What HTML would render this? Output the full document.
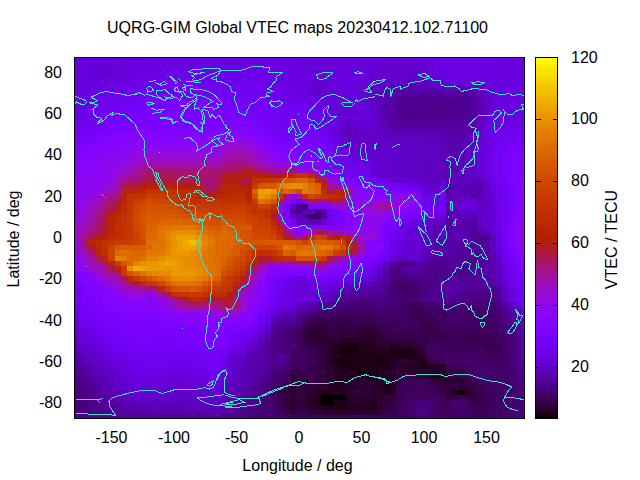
<!DOCTYPE html>
<html><head><meta charset="utf-8"><title>UQRG-GIM Global VTEC maps</title>
<style>
html,body{margin:0;padding:0;background:#fff;}
body{width:640px;height:480px;overflow:hidden;position:relative;font-family:"Liberation Sans",sans-serif;font-size:16px;color:#000;}
svg{position:absolute;left:0;top:0;}
text{font-family:"Liberation Sans",sans-serif;font-size:16px;fill:#000;}
</style></head><body>
<svg width="640" height="480" viewBox="0 0 640 480">
<rect x="0" y="0" width="640" height="480" fill="#ffffff"/>
<g shape-rendering="crispEdges">

<path fill="#6a01e2" d="M74 57h3v3h-3zM433 57h7v3h-7zM496 57h28v3h-28zM483 65h7v5h-7zM483 70h7v5h-7zM333 75h7v5h-7zM440 75h31v5h-31zM483 75h7v5h-7zM121 80h6v5h-6zM340 80h6v5h-6zM352 80h6v5h-6zM74 91h3v5h-3zM521 91h3v5h-3zM496 116h6v5h-6zM490 121h6v6h-6zM483 147h7v5h-7zM490 183h6v6h-6zM427 194h6v5h-6z"/>
<path fill="#6701da" d="M77 57h6v3h-6zM115 57h31v3h-31zM227 60h13v5h-13zM296 60h75v5h-75zM77 65h6v5h-6zM115 65h6v5h-6zM302 65h31v5h-31zM365 65h6v5h-6zM315 70h12v5h-12zM365 70h6v5h-6zM115 75h6v5h-6zM315 75h6v5h-6zM308 80h7v5h-7zM302 85h6v6h-6zM315 96h6v5h-6zM321 101h6v5h-6zM358 101h7v5h-7zM327 106h6v5h-6zM365 116h6v5h-6zM333 121h7v6h-7zM333 127h7v5h-7zM333 132h7v5h-7zM352 152h13v6h-13zM440 183h6v6h-6zM321 219h6v6h-6zM408 225h7v5h-7zM408 230h7v5h-7zM390 256h6v5h-6zM296 281h6v5h-6zM296 286h25v6h-25zM296 292h19v5h-19zM308 297h7v5h-7zM515 302h6v5h-6zM277 307h6v5h-6zM258 328h7v5h-7zM77 333h6v5h-6zM83 338h7v5h-7zM90 343h6v5h-6zM246 343h6v5h-6zM96 348h6v6h-6zM233 348h7v6h-7zM102 354h6v5h-6zM108 359h7v5h-7zM115 364h6v5h-6zM121 369h6v5h-6zM221 369h6v5h-6zM127 374h6v5h-6zM165 374h25v5h-25zM127 379h13v5h-13zM152 379h19v5h-19zM183 379h19v5h-19zM133 384h25v6h-25zM196 384h25v6h-25z"/>
<path fill="#6701db" d="M83 57h32v3h-32zM121 60h6v5h-6zM333 65h32v5h-32zM127 70h6v5h-6zM321 75h6v5h-6zM471 80h6v5h-6zM346 96h6v5h-6zM340 142h6v5h-6zM346 147h6v5h-6zM421 219h6v6h-6zM371 271h6v5h-6zM358 276h7v5h-7zM502 276h6v5h-6z"/>
<path fill="#6a01e1" d="M146 57h219v3h-219zM127 60h100v5h-100zM240 60h56v5h-56zM490 60h6v5h-6zM127 65h175v5h-175zM133 70h13v5h-13zM271 70h44v5h-44zM77 75h6v5h-6zM127 75h6v5h-6zM277 75h19v5h-19zM302 75h13v5h-13zM283 80h25v5h-25zM77 85h38v6h-38zM290 85h12v6h-12zM77 91h25v5h-25zM296 91h12v5h-12zM77 96h19v5h-19zM308 96h7v5h-7zM77 101h13v5h-13zM315 101h6v5h-6zM321 106h6v5h-6zM502 106h19v5h-19zM327 111h6v5h-6zM502 111h19v5h-19zM333 116h7v5h-7zM333 137h7v5h-7zM340 147h6v5h-6zM346 152h6v6h-6zM352 158h13v5h-13zM402 230h6v5h-6zM502 261h6v5h-6zM290 281h6v5h-6zM308 281h7v5h-7zM290 286h6v6h-6zM290 292h6v5h-6zM283 297h25v5h-25zM283 302h13v5h-13zM265 317h6v6h-6zM77 328h6v5h-6zM83 333h7v5h-7zM90 338h6v5h-6zM96 343h6v5h-6zM102 348h6v6h-6zM240 348h6v6h-6zM108 354h7v5h-7zM115 359h12v5h-12zM121 364h6v5h-6zM221 364h6v5h-6zM127 369h6v5h-6zM165 369h31v5h-31zM133 374h32v5h-32zM190 374h12v5h-12zM140 379h12v5h-12zM202 379h19v5h-19z"/>
<path fill="#6901e0" d="M365 57h6v3h-6zM427 57h6v3h-6zM433 60h7v5h-7zM74 80h3v5h-3zM483 80h7v5h-7zM521 80h3v5h-3zM74 96h3v5h-3zM521 96h3v5h-3zM74 101h3v5h-3zM502 101h22v5h-22zM496 111h6v5h-6zM358 116h7v5h-7zM365 158h6v5h-6zM483 173h7v5h-7zM415 183h6v6h-6zM333 281h7v5h-7zM321 286h6v6h-6zM508 286h7v6h-7zM508 292h7v5h-7zM508 297h7v5h-7z"/>
<path fill="#6901df" d="M371 57h56v3h-56zM74 60h3v5h-3zM496 60h28v5h-28zM74 65h3v5h-3zM433 65h7v5h-7zM490 65h6v5h-6zM521 65h3v5h-3zM340 70h18v5h-18zM490 70h6v5h-6zM490 75h6v5h-6zM477 80h6v5h-6zM74 85h3v6h-3zM521 85h3v6h-3zM496 101h6v5h-6zM496 106h6v5h-6zM483 142h7v5h-7zM440 214h6v5h-6zM402 235h6v5h-6zM396 245h6v5h-6zM302 276h6v5h-6z"/>
<path fill="#6b01e4" d="M440 57h43v3h-43zM446 60h37v5h-37zM446 65h37v5h-37zM446 70h37v5h-37zM74 106h3v5h-3zM521 106h3v5h-3zM74 111h3v5h-3zM521 111h3v5h-3zM483 152h7v6h-7zM483 158h7v5h-7zM483 163h7v5h-7zM483 168h7v5h-7z"/>
<path fill="#6b01e3" d="M483 57h7v3h-7zM440 60h6v5h-6zM440 65h6v5h-6zM440 70h6v5h-6zM477 75h6v5h-6zM77 80h6v5h-6zM115 80h6v5h-6zM346 80h6v5h-6zM433 194h7v5h-7zM427 214h6v5h-6zM496 230h6v5h-6zM496 235h6v5h-6zM396 240h6v5h-6zM496 240h6v5h-6z"/>
<path fill="#6a01e3" d="M490 57h6v3h-6zM483 60h7v5h-7zM471 75h6v5h-6zM502 116h19v5h-19zM352 276h6v5h-6z"/>
<path fill="#6801dd" d="M77 60h6v5h-6zM115 60h6v5h-6zM121 65h6v5h-6zM502 70h19v5h-19zM74 75h3v5h-3zM121 75h6v5h-6zM433 75h7v5h-7zM502 75h22v5h-22zM502 80h19v5h-19zM346 85h6v6h-6zM496 85h25v6h-25zM346 91h12v5h-12zM496 91h6v5h-6zM496 96h6v5h-6zM483 137h7v5h-7zM458 204h19v5h-19zM74 312h3v5h-3zM521 312h3v5h-3z"/>
<path fill="#6901de" d="M83 60h32v5h-32zM496 65h6v5h-6zM433 70h7v5h-7zM83 80h32v5h-32zM333 80h7v5h-7zM358 80h7v5h-7zM490 80h6v5h-6zM502 96h19v5h-19zM352 116h6v5h-6z"/>
<path fill="#6601d8" d="M371 60h6v5h-6zM327 80h6v5h-6zM446 80h25v5h-25zM333 85h7v6h-7zM358 85h7v6h-7zM483 85h7v6h-7zM490 91h6v5h-6zM340 96h6v5h-6zM358 96h7v5h-7zM352 106h6v5h-6zM490 106h6v5h-6zM477 152h6v6h-6zM477 168h6v5h-6zM490 189h6v5h-6zM365 276h6v5h-6z"/>
<path fill="#6501d5" d="M377 60h44v5h-44zM90 65h25v5h-25zM427 70h6v5h-6zM90 75h18v5h-18zM396 178h12v5h-12zM421 183h6v6h-6zM427 189h6v5h-6zM402 240h6v5h-6zM408 250h7v6h-7zM496 250h6v6h-6z"/>
<path fill="#6501d6" d="M421 60h6v5h-6zM427 65h6v5h-6zM352 101h6v5h-6zM433 189h7v5h-7zM408 240h7v5h-7zM327 286h6v6h-6z"/>
<path fill="#6701d9" d="M427 60h6v5h-6zM358 106h7v5h-7zM365 152h6v6h-6zM415 225h6v5h-6zM502 271h6v5h-6z"/>
<path fill="#6801dc" d="M83 65h7v5h-7zM77 70h6v5h-6zM327 70h6v5h-6zM83 75h7v5h-7zM108 75h7v5h-7zM358 75h7v5h-7zM340 85h6v6h-6zM352 85h6v6h-6zM490 85h6v6h-6zM340 91h6v5h-6zM333 96h7v5h-7zM327 101h6v5h-6zM340 116h6v5h-6zM490 116h6v5h-6zM483 127h7v5h-7zM483 132h7v5h-7zM383 178h7v5h-7zM496 245h6v5h-6zM408 256h7v5h-7z"/>
<path fill="#6501d4" d="M371 65h6v5h-6zM115 70h6v5h-6zM427 75h6v5h-6zM321 80h6v5h-6zM358 111h13v5h-13zM358 121h13v6h-13zM352 147h6v5h-6zM371 173h6v5h-6zM477 173h6v5h-6zM483 178h7v5h-7zM402 250h6v6h-6z"/>
<path fill="#6301d0" d="M377 65h6v5h-6zM421 65h6v5h-6zM365 85h6v6h-6zM327 91h6v5h-6zM346 106h6v5h-6zM371 163h6v5h-6zM377 168h6v5h-6zM471 209h6v5h-6zM490 230h6v5h-6zM402 245h6v5h-6zM415 256h6v5h-6zM340 281h6v5h-6z"/>
<path fill="#6301cf" d="M383 65h38v5h-38zM377 70h50v5h-50zM377 75h6v5h-6zM365 127h6v5h-6zM371 132h6v5h-6zM377 158h6v5h-6zM377 163h6v5h-6zM433 183h7v6h-7zM415 240h6v5h-6z"/>
<path fill="#6801de" d="M502 65h19v5h-19zM74 70h3v5h-3zM333 70h7v5h-7zM358 70h7v5h-7zM496 70h6v5h-6zM521 70h3v5h-3zM327 75h6v5h-6zM496 75h6v5h-6zM496 80h6v5h-6zM502 91h19v5h-19zM433 214h7v5h-7z"/>
<path fill="#6601d7" d="M83 70h7v5h-7zM365 75h6v5h-6zM365 80h6v5h-6zM440 80h6v5h-6zM333 91h7v5h-7zM333 101h7v5h-7zM490 101h6v5h-6zM483 121h7v6h-7zM477 147h6v5h-6zM490 194h6v5h-6zM465 199h12v5h-12zM490 199h6v5h-6zM490 204h6v5h-6zM490 209h6v5h-6zM490 214h6v5h-6zM490 219h6v6h-6zM490 225h6v5h-6z"/>
<path fill="#6401d2" d="M90 70h18v5h-18zM371 70h6v5h-6zM308 85h7v6h-7zM308 91h7v5h-7zM340 101h12v5h-12zM365 101h6v5h-6zM290 204h6v5h-6zM290 214h6v5h-6zM415 230h6v5h-6zM377 266h6v5h-6zM315 292h6v5h-6zM315 297h6v5h-6zM283 307h13v5h-13zM271 312h6v5h-6zM74 317h3v6h-3zM521 317h3v6h-3zM265 323h6v5h-6zM77 338h6v5h-6zM252 338h6v5h-6zM83 343h7v5h-7zM90 348h6v6h-6zM96 354h6v5h-6zM227 354h6v5h-6zM102 359h6v5h-6zM227 359h6v5h-6zM108 364h7v5h-7zM227 364h6v5h-6zM115 369h6v5h-6zM227 369h6v5h-6zM121 374h6v5h-6zM221 374h6v5h-6zM121 379h6v5h-6zM171 379h12v5h-12zM127 384h6v6h-6zM158 384h38v6h-38zM133 390h32v5h-32zM190 390h31v5h-31z"/>
<path fill="#6401d1" d="M108 70h7v5h-7zM371 75h6v5h-6zM477 85h6v6h-6zM352 111h6v5h-6zM352 121h6v6h-6zM477 137h6v5h-6zM483 214h7v5h-7zM483 219h7v6h-7zM421 225h6v5h-6zM408 235h7v5h-7zM408 245h7v5h-7zM415 250h6v6h-6zM502 281h6v5h-6zM321 292h6v5h-6z"/>
<path fill="#6601d6" d="M121 70h6v5h-6zM327 96h6v5h-6zM490 96h6v5h-6zM346 116h6v5h-6zM390 178h6v5h-6z"/>
<path fill="#6c01e7" d="M146 70h125v5h-125zM133 75h144v5h-144zM296 75h6v5h-6zM133 80h7v5h-7zM258 80h25v5h-25zM127 85h6v6h-6zM265 85h25v6h-25zM102 91h19v5h-19zM271 91h25v5h-25zM96 96h12v5h-12zM277 96h31v5h-31zM90 101h12v5h-12zM308 101h7v5h-7zM77 106h19v5h-19zM315 106h6v5h-6zM77 111h13v5h-13zM321 111h6v5h-6zM77 116h13v5h-13zM327 116h6v5h-6zM327 121h6v6h-6zM327 127h6v5h-6zM327 132h6v5h-6zM490 132h6v5h-6zM333 142h7v5h-7zM340 152h6v6h-6zM346 158h6v5h-6zM352 163h13v5h-13zM296 199h6v5h-6zM327 214h6v5h-6zM402 225h6v5h-6zM377 261h6v5h-6zM283 286h7v6h-7zM283 292h7v5h-7zM277 297h6v5h-6zM277 302h6v5h-6zM74 307h3v5h-3zM271 307h6v5h-6zM521 307h3v5h-3zM77 323h6v5h-6zM258 323h7v5h-7zM83 328h7v5h-7zM90 333h6v5h-6zM252 333h6v5h-6zM96 338h6v5h-6zM246 338h6v5h-6zM102 343h6v5h-6zM240 343h6v5h-6zM108 348h7v6h-7zM227 348h6v6h-6zM115 354h12v5h-12zM127 359h13v5h-13zM221 359h6v5h-6zM127 364h13v5h-13zM165 364h31v5h-31zM133 369h32v5h-32zM196 369h12v5h-12zM202 374h19v5h-19z"/>
<path fill="#6b01e5" d="M340 75h6v5h-6zM352 75h6v5h-6zM496 121h6v6h-6zM415 219h6v6h-6zM365 271h6v5h-6z"/>
<path fill="#6c01e5" d="M346 75h6v5h-6zM365 163h6v5h-6zM296 276h6v5h-6z"/>
<path fill="#6301ce" d="M383 75h19v5h-19zM421 75h6v5h-6zM340 106h6v5h-6zM358 127h7v5h-7zM371 127h6v5h-6zM346 142h6v5h-6zM377 152h13v6h-13zM371 158h6v5h-6zM383 158h7v5h-7zM383 163h7v5h-7zM383 168h7v5h-7zM383 173h7v5h-7zM427 183h6v6h-6zM371 276h6v5h-6z"/>
<path fill="#6201ce" d="M402 75h19v5h-19z"/>
<path fill="#6c02e7" d="M127 80h6v5h-6zM115 85h12v6h-12zM490 137h6v5h-6zM377 178h6v5h-6zM421 214h6v5h-6zM502 256h6v5h-6zM371 266h6v5h-6zM315 281h6v5h-6z"/>
<path fill="#6f02ec" d="M140 80h118v5h-118zM133 85h13v6h-13zM246 85h19v6h-19zM121 91h12v5h-12zM252 91h19v5h-19zM108 96h19v5h-19zM258 96h19v5h-19zM102 101h13v5h-13zM265 101h43v5h-43zM96 106h12v5h-12zM308 106h7v5h-7zM90 111h12v5h-12zM315 111h6v5h-6zM321 116h6v5h-6zM321 121h6v6h-6zM321 127h6v5h-6zM515 127h6v5h-6zM327 137h6v5h-6zM496 137h6v5h-6zM333 147h7v5h-7zM490 147h6v5h-6zM340 158h6v5h-6zM346 163h6v5h-6zM352 168h13v5h-13zM440 194h6v5h-6zM396 230h6v5h-6zM277 292h6v5h-6zM265 312h6v5h-6zM77 317h6v6h-6zM83 323h7v5h-7zM90 328h6v5h-6zM252 328h6v5h-6zM96 333h6v5h-6zM240 333h6v5h-6zM102 338h6v5h-6zM240 338h6v5h-6zM108 343h7v5h-7zM233 343h7v5h-7zM115 348h12v6h-12zM127 354h13v5h-13zM171 354h12v5h-12zM221 354h6v5h-6zM140 359h56v5h-56zM140 364h25v5h-25zM196 364h12v5h-12zM208 369h13v5h-13z"/>
<path fill="#6401d3" d="M315 80h6v5h-6zM358 91h7v5h-7zM365 106h6v5h-6zM333 111h7v5h-7zM477 142h6v5h-6zM377 173h6v5h-6zM408 178h7v5h-7zM302 281h6v5h-6z"/>
<path fill="#6201cd" d="M371 80h6v5h-6zM483 91h7v5h-7zM340 111h6v5h-6zM483 116h7v5h-7zM340 121h6v6h-6zM477 132h6v5h-6zM358 147h13v5h-13zM415 178h6v5h-6zM496 256h6v5h-6z"/>
<path fill="#6201cc" d="M377 80h6v5h-6zM427 80h6v5h-6zM321 85h6v6h-6zM321 91h6v5h-6zM365 96h6v5h-6zM371 121h6v6h-6zM358 132h7v5h-7zM340 137h6v5h-6zM352 142h6v5h-6zM390 152h6v6h-6zM471 152h6v6h-6zM390 158h6v5h-6zM471 158h6v5h-6zM390 163h6v5h-6zM471 163h6v5h-6zM390 168h6v5h-6zM471 168h6v5h-6zM390 173h6v5h-6zM483 183h7v6h-7z"/>
<path fill="#6201cb" d="M383 80h7v5h-7zM365 91h6v5h-6zM371 111h6v5h-6zM371 116h6v5h-6zM377 147h13v5h-13zM396 256h6v5h-6zM346 281h6v5h-6z"/>
<path fill="#6101ca" d="M390 80h6v5h-6zM315 85h6v6h-6zM315 91h6v5h-6zM371 106h6v5h-6zM371 137h6v5h-6zM471 147h6v5h-6zM371 152h6v6h-6zM471 173h6v5h-6zM483 194h7v5h-7zM483 199h7v5h-7zM483 204h7v5h-7zM483 209h7v5h-7zM296 219h12v6h-12zM440 219h6v6h-6zM483 225h7v5h-7zM421 230h6v5h-6zM383 261h7v5h-7zM333 286h7v6h-7zM321 297h6v5h-6zM515 307h6v5h-6zM258 333h7v5h-7zM77 343h6v5h-6zM252 343h6v5h-6zM83 348h7v6h-7zM90 354h6v5h-6zM233 354h13v5h-13zM96 359h6v5h-6zM102 364h6v5h-6zM108 369h7v5h-7zM115 374h6v5h-6zM227 374h6v5h-6zM115 379h6v5h-6zM221 379h6v5h-6zM121 384h6v6h-6zM127 390h6v5h-6zM165 390h25v5h-25zM133 395h38v5h-38zM183 395h38v5h-38z"/>
<path fill="#6101c8" d="M396 80h6v5h-6zM371 85h6v6h-6zM346 111h6v5h-6zM483 111h7v5h-7zM346 121h6v6h-6zM365 142h6v5h-6zM377 142h6v5h-6zM396 152h6v6h-6zM502 286h6v6h-6z"/>
<path fill="#6001c7" d="M402 80h25v5h-25zM483 96h7v5h-7zM371 101h6v5h-6zM483 101h7v5h-7zM483 106h7v5h-7zM477 127h6v5h-6zM396 147h6v5h-6zM402 168h6v5h-6zM408 173h7v5h-7zM477 199h6v5h-6zM477 204h6v5h-6zM477 209h6v5h-6zM477 214h6v5h-6zM477 219h6v6h-6zM421 245h6v5h-6zM327 292h6v5h-6zM74 323h3v5h-3zM521 323h3v5h-3z"/>
<path fill="#6501d3" d="M433 80h7v5h-7zM321 96h6v5h-6zM333 106h7v5h-7zM371 168h6v5h-6zM415 245h6v5h-6z"/>
<path fill="#7102f1" d="M146 85h100v6h-100zM133 91h119v5h-119zM127 96h13v5h-13zM240 96h18v5h-18zM115 101h18v5h-18zM252 101h13v5h-13zM108 106h13v5h-13zM258 106h50v5h-50zM102 111h13v5h-13zM271 111h25v5h-25zM302 111h13v5h-13zM277 116h19v5h-19zM308 116h13v5h-13zM277 121h19v6h-19zM308 121h13v6h-13zM77 127h6v5h-6zM283 127h13v5h-13zM315 127h6v5h-6zM321 132h6v5h-6zM508 132h7v5h-7zM327 142h6v5h-6zM333 152h7v6h-7zM340 163h6v5h-6zM346 168h6v5h-6zM352 173h13v5h-13zM365 178h6v5h-6zM440 199h6v5h-6zM327 209h6v5h-6zM327 219h6v6h-6zM402 219h6v6h-6zM396 225h6v5h-6zM371 261h6v5h-6zM77 286h6v6h-6zM277 286h6v6h-6zM515 286h6v6h-6zM515 292h6v5h-6zM271 297h6v5h-6zM515 297h6v5h-6zM271 302h6v5h-6zM77 312h6v5h-6zM83 317h7v6h-7zM258 317h7v6h-7zM90 323h6v5h-6zM96 328h6v5h-6zM102 333h6v5h-6zM246 333h6v5h-6zM108 338h7v5h-7zM233 338h7v5h-7zM115 343h12v5h-12zM127 348h13v6h-13zM165 348h18v6h-18zM140 354h31v5h-31zM183 354h19v5h-19zM196 359h12v5h-12zM208 364h13v5h-13z"/>
<path fill="#6401d0" d="M327 85h6v6h-6zM465 209h6v5h-6z"/>
<path fill="#5f01c4" d="M377 85h6v6h-6zM471 85h6v6h-6zM352 127h6v5h-6zM346 137h6v5h-6zM371 142h6v5h-6zM396 142h6v5h-6zM415 147h12v5h-12zM433 152h7v6h-7zM415 168h6v5h-6zM415 173h6v5h-6z"/>
<path fill="#5f01c3" d="M383 85h7v6h-7zM377 127h6v5h-6zM383 137h7v5h-7zM471 137h6v5h-6zM402 142h13v5h-13zM427 147h13v5h-13zM421 152h6v6h-6zM415 158h6v5h-6zM415 163h6v5h-6zM421 178h6v5h-6zM483 189h7v5h-7zM308 209h7v5h-7zM296 214h6v5h-6zM496 271h6v5h-6zM296 302h6v5h-6zM277 312h6v5h-6zM265 328h6v5h-6zM77 348h6v6h-6zM246 348h6v6h-6zM83 354h7v5h-7zM90 359h6v5h-6zM233 359h13v5h-13zM96 364h6v5h-6zM233 364h7v5h-7zM102 369h6v5h-6zM233 369h7v5h-7zM108 374h7v5h-7zM233 374h7v5h-7zM108 379h7v5h-7zM227 379h6v5h-6zM115 384h6v6h-6zM221 384h6v6h-6zM121 390h6v5h-6zM127 395h6v5h-6zM171 395h12v5h-12zM140 400h31v5h-31zM183 400h38v5h-38z"/>
<path fill="#5e01bf" d="M390 85h6v6h-6zM383 132h7v5h-7zM433 142h7v5h-7zM465 147h6v5h-6zM440 152h6v6h-6zM440 158h6v5h-6zM440 163h6v5h-6zM440 168h6v5h-6zM477 225h6v5h-6zM74 328h3v5h-3zM521 328h3v5h-3z"/>
<path fill="#5b01b8" d="M396 85h6v6h-6zM383 91h7v5h-7zM377 106h6v5h-6zM346 127h6v5h-6zM346 132h6v5h-6zM415 132h6v5h-6zM446 173h12v5h-12zM446 178h6v5h-6zM477 194h6v5h-6zM446 199h6v5h-6zM446 204h6v5h-6zM452 214h6v5h-6zM440 225h6v5h-6z"/>
<path fill="#5a00b4" d="M402 85h25v6h-25zM477 101h6v5h-6zM477 106h6v5h-6zM446 147h6v5h-6zM458 147h7v5h-7zM458 235h13v5h-13zM490 271h6v5h-6z"/>
<path fill="#5b01b6" d="M427 85h6v6h-6zM477 96h6v5h-6zM383 127h7v5h-7zM421 132h6v5h-6zM446 158h6v5h-6zM458 158h7v5h-7zM446 163h6v5h-6zM458 163h7v5h-7zM446 168h6v5h-6zM452 183h6v6h-6zM490 250h6v6h-6z"/>
<path fill="#5c01b9" d="M433 85h7v6h-7zM377 111h6v5h-6zM477 116h6v5h-6zM396 132h19v5h-19zM458 183h7v6h-7zM452 230h6v5h-6zM383 266h7v5h-7zM340 286h6v6h-6zM327 297h6v5h-6z"/>
<path fill="#5c01bb" d="M440 85h6v6h-6zM377 116h6v5h-6zM465 142h6v5h-6zM458 173h7v5h-7zM465 189h6v5h-6zM458 214h13v5h-13zM308 219h13v6h-13zM427 230h6v5h-6zM458 230h7v5h-7zM483 230h7v5h-7zM502 297h6v5h-6zM302 302h6v5h-6zM290 312h6v5h-6zM515 312h6v5h-6zM258 338h7v5h-7zM252 348h6v6h-6zM246 354h6v5h-6zM83 359h7v5h-7zM90 364h6v5h-6zM240 364h6v5h-6zM96 369h6v5h-6zM240 369h6v5h-6zM102 374h6v5h-6zM240 374h6v5h-6zM233 379h13v5h-13zM108 384h7v6h-7zM227 384h13v6h-13zM115 390h6v5h-6zM221 390h12v5h-12zM121 395h6v5h-6zM221 395h6v5h-6zM127 400h13v5h-13zM171 400h12v5h-12zM146 405h19v5h-19zM183 405h38v5h-38z"/>
<path fill="#5d01bc" d="M446 85h19v6h-19zM433 137h7v5h-7zM433 173h13v5h-13zM496 276h6v5h-6z"/>
<path fill="#5d01bd" d="M465 85h6v6h-6zM471 132h6v5h-6zM427 137h6v5h-6zM421 173h6v5h-6zM427 178h6v5h-6zM471 178h6v5h-6zM421 250h6v6h-6zM421 256h6v5h-6zM496 266h6v5h-6zM502 292h6v5h-6z"/>
<path fill="#5e01c1" d="M371 91h6v5h-6zM371 96h6v5h-6zM390 137h25v5h-25zM421 142h6v5h-6zM465 152h6v6h-6zM465 158h6v5h-6zM465 163h6v5h-6zM421 168h12v5h-12zM465 168h6v5h-6zM458 194h7v5h-7zM458 209h7v5h-7zM427 225h6v5h-6zM421 240h6v5h-6zM508 302h7v5h-7z"/>
<path fill="#5c01ba" d="M377 91h6v5h-6zM390 132h6v5h-6zM440 142h6v5h-6zM427 173h6v5h-6zM465 183h6v6h-6zM427 245h6v5h-6zM377 276h6v5h-6zM371 281h6v5h-6z"/>
<path fill="#5900b2" d="M390 91h6v5h-6zM452 168h6v5h-6zM433 225h7v5h-7zM427 240h6v5h-6zM352 286h6v6h-6zM296 307h6v5h-6z"/>
<path fill="#5600a6" d="M396 91h6v5h-6zM440 127h6v5h-6zM446 286h6v6h-6zM333 297h7v5h-7z"/>
<path fill="#54009f" d="M402 91h6v5h-6zM433 91h13v5h-13z"/>
<path fill="#53009e" d="M408 91h19v5h-19zM396 121h6v6h-6zM402 266h6v5h-6zM383 276h7v5h-7zM74 359h3v5h-3zM521 359h3v5h-3z"/>
<path fill="#53009f" d="M427 91h6v5h-6zM465 121h6v6h-6zM490 281h6v5h-6z"/>
<path fill="#5400a0" d="M446 91h19v5h-19zM471 106h6v5h-6zM352 292h6v5h-6z"/>
<path fill="#5400a2" d="M465 91h6v5h-6zM471 96h6v5h-6zM390 106h6v5h-6zM452 127h6v5h-6zM302 214h6v5h-6zM321 214h6v5h-6zM440 250h6v6h-6zM477 271h6v5h-6zM477 276h6v5h-6zM483 281h7v5h-7zM446 297h6v5h-6zM315 302h6v5h-6zM277 317h6v6h-6zM515 323h6v5h-6zM74 354h3v5h-3zM521 354h3v5h-3zM77 364h6v5h-6zM258 364h7v5h-7zM83 369h7v5h-7zM258 369h7v5h-7zM90 379h6v5h-6zM252 379h6v5h-6zM96 384h6v6h-6zM96 390h6v5h-6zM246 390h6v5h-6zM102 395h6v5h-6zM240 395h6v5h-6zM108 400h7v5h-7zM233 400h7v5h-7zM115 405h6v5h-6zM227 405h6v5h-6zM121 410h12v5h-12zM221 410h6v5h-6z"/>
<path fill="#5700ac" d="M471 91h6v5h-6zM383 106h7v5h-7zM383 111h7v5h-7zM458 189h7v5h-7zM471 189h6v5h-6zM377 281h6v5h-6z"/>
<path fill="#5d01be" d="M477 91h6v5h-6zM421 137h6v5h-6zM440 147h6v5h-6zM421 158h12v5h-12zM421 163h12v5h-12zM433 178h7v5h-7zM477 178h6v5h-6zM452 189h6v5h-6zM452 194h6v5h-6zM452 209h6v5h-6z"/>
<path fill="#7402f5" d="M140 96h100v5h-100zM133 101h13v5h-13zM233 101h19v5h-19zM121 106h12v5h-12zM246 106h12v5h-12zM115 111h12v5h-12zM258 111h13v5h-13zM296 111h6v5h-6zM271 116h6v5h-6zM296 116h12v5h-12zM296 121h12v6h-12zM302 127h13v5h-13zM283 132h13v5h-13zM308 132h13v5h-13zM321 137h6v5h-6zM327 147h6v5h-6zM333 158h7v5h-7zM340 168h6v5h-6zM346 173h6v5h-6zM358 178h7v5h-7zM390 183h18v6h-18zM290 219h6v6h-6zM390 230h6v5h-6zM74 292h3v5h-3zM271 292h6v5h-6zM521 292h3v5h-3zM77 307h6v5h-6zM265 307h6v5h-6zM83 312h7v5h-7zM90 317h6v6h-6zM96 323h6v5h-6zM252 323h6v5h-6zM102 328h6v5h-6zM108 333h7v5h-7zM233 333h7v5h-7zM115 338h12v5h-12zM227 338h6v5h-6zM127 343h13v5h-13zM158 343h19v5h-19zM227 343h6v5h-6zM140 348h25v6h-25zM183 348h19v6h-19zM221 348h6v6h-6zM202 354h13v5h-13zM208 359h13v5h-13z"/>
<path fill="#6601d9" d="M352 96h6v5h-6zM490 111h6v5h-6zM477 158h6v5h-6zM477 163h6v5h-6z"/>
<path fill="#5b01b7" d="M377 96h6v5h-6zM377 101h6v5h-6zM440 137h6v5h-6zM458 168h7v5h-7zM346 286h6v6h-6zM74 333h3v5h-3zM521 333h3v5h-3z"/>
<path fill="#5900b1" d="M383 96h7v5h-7zM471 127h6v5h-6zM440 132h6v5h-6zM446 142h6v5h-6zM458 142h7v5h-7zM452 152h6v6h-6zM452 158h6v5h-6zM452 163h6v5h-6zM477 230h6v5h-6zM440 240h6v5h-6zM427 250h6v6h-6zM496 281h6v5h-6zM508 307h7v5h-7z"/>
<path fill="#5700aa" d="M390 96h6v5h-6zM396 127h6v5h-6zM321 209h6v5h-6zM452 219h6v6h-6zM440 245h6v5h-6zM358 286h7v6h-7zM452 286h6v6h-6zM515 317h6v6h-6zM74 348h3v6h-3zM258 348h7v6h-7zM521 348h3v6h-3zM258 354h7v5h-7zM277 354h6v5h-6zM77 359h6v5h-6zM252 359h13v5h-13zM83 364h7v5h-7zM252 364h6v5h-6zM252 369h6v5h-6zM90 374h6v5h-6zM252 374h6v5h-6zM96 379h6v5h-6zM246 384h6v6h-6zM102 390h6v5h-6zM240 390h6v5h-6zM108 395h7v5h-7zM233 395h7v5h-7zM115 400h6v5h-6zM227 400h6v5h-6zM121 405h12v5h-12zM221 405h6v5h-6zM133 410h88v5h-88z"/>
<path fill="#52009c" d="M396 96h6v5h-6zM452 121h6v6h-6zM452 256h6v5h-6zM452 261h6v5h-6zM452 271h6v5h-6zM496 292h6v5h-6z"/>
<path fill="#500094" d="M402 96h6v5h-6zM458 101h7v5h-7zM458 106h7v5h-7zM458 111h7v5h-7zM452 266h6v5h-6zM458 292h7v5h-7z"/>
<path fill="#500093" d="M408 96h7v5h-7zM433 96h19v5h-19zM396 106h6v5h-6zM396 111h6v5h-6zM415 271h6v5h-6zM471 286h6v6h-6zM502 307h6v5h-6z"/>
<path fill="#500092" d="M415 96h18v5h-18zM477 235h6v5h-6zM483 286h7v6h-7z"/>
<path fill="#500095" d="M452 96h6v5h-6zM452 116h6v5h-6zM446 261h6v5h-6zM402 271h6v5h-6zM446 271h6v5h-6z"/>
<path fill="#510096" d="M458 96h7v5h-7zM396 101h6v5h-6zM465 101h6v5h-6zM465 106h6v5h-6zM465 111h6v5h-6zM396 116h6v5h-6zM471 230h6v5h-6zM471 235h6v5h-6zM471 240h6v5h-6zM465 245h12v5h-12zM465 250h6v6h-6zM458 261h7v5h-7zM471 261h6v5h-6zM471 266h6v5h-6zM408 271h7v5h-7zM458 276h13v5h-13zM440 297h6v5h-6zM496 297h6v5h-6zM74 364h3v5h-3zM521 364h3v5h-3z"/>
<path fill="#510097" d="M465 96h6v5h-6zM458 116h7v5h-7zM440 286h6v6h-6zM365 292h6v5h-6zM452 297h6v5h-6z"/>
<path fill="#7603f9" d="M146 101h87v5h-87zM133 106h113v5h-113zM127 111h13v5h-13zM240 111h18v5h-18zM127 116h13v5h-13zM252 116h13v5h-13zM296 127h6v5h-6zM296 132h12v5h-12zM77 137h6v5h-6zM277 137h19v5h-19zM308 137h13v5h-13zM321 142h6v5h-6zM327 152h6v6h-6zM333 163h7v5h-7zM340 173h6v5h-6zM502 178h6v5h-6zM371 183h19v6h-19zM333 214h7v5h-7zM396 219h6v6h-6zM390 225h6v5h-6zM327 276h6v5h-6zM271 286h6v6h-6zM77 292h6v5h-6zM74 297h9v5h-9zM521 297h3v5h-3zM77 302h6v5h-6zM83 307h7v5h-7zM90 312h6v5h-6zM258 312h7v5h-7zM96 317h6v6h-6zM102 323h6v5h-6zM108 328h13v5h-13zM246 328h6v5h-6zM115 333h18v5h-18zM227 333h6v5h-6zM127 338h13v5h-13zM152 338h25v5h-25zM140 343h18v5h-18zM177 343h38v5h-38zM202 348h19v6h-19zM215 354h6v5h-6z"/>
<path fill="#5800ad" d="M383 101h7v5h-7zM383 116h7v5h-7zM452 142h6v5h-6zM483 271h7v5h-7z"/>
<path fill="#5500a4" d="M390 101h6v5h-6zM471 194h6v5h-6zM471 219h6v6h-6zM446 225h6v5h-6zM465 225h6v5h-6zM446 230h6v5h-6zM458 240h7v5h-7zM446 250h6v6h-6zM446 292h6v5h-6z"/>
<path fill="#4e008d" d="M402 101h6v5h-6zM446 111h6v5h-6zM302 312h6v5h-6z"/>
<path fill="#4e008c" d="M408 101h38v5h-38zM446 106h6v5h-6z"/>
<path fill="#4e008e" d="M446 101h6v5h-6zM471 250h6v6h-6zM471 256h6v5h-6zM446 266h6v5h-6zM458 266h7v5h-7zM458 271h7v5h-7zM352 297h6v5h-6zM458 297h7v5h-7z"/>
<path fill="#4f0092" d="M452 101h6v5h-6zM452 111h6v5h-6zM446 116h6v5h-6zM433 286h7v6h-7zM477 286h6v6h-6zM377 292h6v5h-6z"/>
<path fill="#5400a1" d="M471 101h6v5h-6zM390 111h6v5h-6zM471 111h6v5h-6zM446 219h6v6h-6zM477 266h6v5h-6zM477 281h6v5h-6zM502 302h6v5h-6zM508 312h7v5h-7zM290 317h6v6h-6z"/>
<path fill="#4d008b" d="M402 106h6v5h-6zM402 111h6v5h-6z"/>
<path fill="#4d0089" d="M408 106h32v5h-32zM283 323h7v5h-7zM508 323h7v5h-7zM277 328h6v5h-6zM271 333h6v5h-6zM271 338h6v5h-6zM515 338h6v5h-6zM271 343h6v5h-6zM515 343h6v5h-6zM271 348h6v6h-6zM515 348h6v6h-6zM271 354h6v5h-6zM515 354h6v5h-6zM271 359h6v5h-6zM283 359h7v5h-7zM515 359h6v5h-6zM271 364h12v5h-12zM74 374h3v5h-3zM265 374h6v5h-6zM521 374h3v5h-3zM77 379h6v5h-6zM83 384h7v6h-7zM258 384h7v6h-7zM83 390h7v5h-7zM90 395h6v5h-6zM252 395h6v5h-6zM90 400h6v5h-6zM252 400h6v5h-6zM96 405h6v5h-6zM246 405h6v5h-6zM96 410h6v5h-6zM240 410h6v5h-6zM74 415h28v3h-28zM233 415h13v3h-13zM521 415h3v3h-3z"/>
<path fill="#4d008a" d="M440 106h6v5h-6zM408 111h38v5h-38zM433 261h13v5h-13zM433 266h13v5h-13zM421 271h6v5h-6zM440 271h6v5h-6zM421 276h6v5h-6zM433 276h7v5h-7zM433 281h7v5h-7z"/>
<path fill="#4f0091" d="M452 106h6v5h-6zM440 276h6v5h-6zM433 292h7v5h-7zM427 297h6v5h-6zM327 302h6v5h-6zM508 317h7v6h-7zM277 323h6v5h-6zM271 328h6v5h-6zM515 333h6v5h-6zM283 354h7v5h-7zM74 369h3v5h-3zM265 369h6v5h-6zM521 369h3v5h-3zM77 374h6v5h-6zM83 379h7v5h-7zM258 379h7v5h-7zM90 390h6v5h-6zM252 390h6v5h-6zM96 400h6v5h-6zM246 400h6v5h-6zM102 405h6v5h-6zM240 405h6v5h-6zM102 410h13v5h-13zM233 410h7v5h-7zM102 415h19v3h-19zM221 415h12v3h-12z"/>
<path fill="#7903fc" d="M140 111h100v5h-100zM140 116h112v5h-112zM108 127h7v5h-7zM96 132h6v5h-6zM296 137h12v5h-12zM277 142h19v5h-19zM308 142h13v5h-13zM321 147h6v5h-6zM508 147h7v5h-7zM327 158h6v5h-6zM333 168h7v5h-7zM352 178h6v5h-6zM365 183h6v6h-6zM508 183h7v6h-7zM402 189h6v5h-6zM283 209h7v5h-7zM333 219h7v6h-7zM296 225h12v5h-12zM383 230h7v5h-7zM515 266h6v5h-6zM296 271h6v5h-6zM346 271h6v5h-6zM77 281h6v5h-6zM271 281h6v5h-6zM83 286h7v6h-7zM83 292h7v5h-7zM83 297h7v5h-7zM265 297h6v5h-6zM83 302h13v5h-13zM265 302h6v5h-6zM90 307h12v5h-12zM96 312h12v5h-12zM102 317h13v6h-13zM252 317h6v6h-6zM108 323h25v5h-25zM121 328h19v5h-19zM233 328h13v5h-13zM133 333h57v5h-57zM140 338h12v5h-12zM177 338h50v5h-50zM215 343h12v5h-12z"/>
<path fill="#5a01b5" d="M477 111h6v5h-6zM433 132h7v5h-7z"/>
<path fill="#6c01e6" d="M74 116h3v5h-3zM521 116h3v5h-3zM502 121h19v6h-19zM490 127h6v5h-6zM490 178h6v5h-6zM408 183h7v6h-7zM408 219h7v6h-7zM396 235h6v5h-6z"/>
<path fill="#6f02ed" d="M90 116h12v5h-12zM77 121h13v6h-13zM490 173h6v5h-6zM371 178h6v5h-6zM496 183h6v6h-6zM421 199h6v5h-6zM390 250h6v6h-6zM502 250h6v6h-6zM383 256h7v5h-7zM508 271h7v5h-7zM340 276h12v5h-12zM508 276h7v5h-7zM283 281h7v5h-7z"/>
<path fill="#7202f2" d="M102 116h13v5h-13zM90 121h12v6h-12zM83 127h7v5h-7zM496 147h6v5h-6zM496 178h6v5h-6zM502 194h6v5h-6zM502 199h6v5h-6zM502 204h6v5h-6zM440 209h6v5h-6zM502 209h6v5h-6zM502 245h6v5h-6z"/>
<path fill="#7402f6" d="M115 116h12v5h-12zM265 116h6v5h-6zM265 121h12v6h-12zM271 127h12v5h-12zM77 132h13v5h-13zM277 132h6v5h-6zM502 147h6v5h-6zM502 183h6v6h-6zM440 204h6v5h-6zM415 214h6v5h-6zM502 214h6v5h-6zM502 219h6v6h-6zM502 225h6v5h-6zM502 230h6v5h-6zM502 235h6v5h-6zM502 240h6v5h-6zM277 281h6v5h-6z"/>
<path fill="#5500a2" d="M390 116h6v5h-6z"/>
<path fill="#4f0090" d="M402 116h6v5h-6zM440 116h6v5h-6zM490 286h6v6h-6zM427 292h6v5h-6zM346 297h6v5h-6zM315 307h6v5h-6z"/>
<path fill="#4f008f" d="M408 116h32v5h-32zM427 266h6v5h-6zM427 271h6v5h-6zM427 276h6v5h-6z"/>
<path fill="#520099" d="M465 116h6v5h-6zM440 281h6v5h-6zM340 297h6v5h-6zM433 297h7v5h-7zM321 302h6v5h-6z"/>
<path fill="#5500a3" d="M471 116h6v5h-6zM446 127h6v5h-6zM458 127h7v5h-7zM433 240h7v5h-7zM483 240h7v5h-7zM433 245h7v5h-7zM483 245h7v5h-7zM433 250h7v6h-7zM452 250h6v6h-6zM483 250h7v6h-7zM483 256h7v5h-7zM421 261h6v5h-6zM483 261h7v5h-7zM452 276h6v5h-6zM446 281h6v5h-6zM340 292h12v5h-12z"/>
<path fill="#6d02e9" d="M74 121h3v6h-3zM521 121h3v6h-3zM502 127h6v5h-6zM490 142h6v5h-6zM496 194h6v5h-6zM433 199h7v5h-7zM496 199h6v5h-6zM496 204h6v5h-6zM496 209h6v5h-6zM496 214h6v5h-6zM496 219h6v6h-6zM496 225h6v5h-6zM327 281h6v5h-6z"/>
<path fill="#7502f7" d="M102 121h13v6h-13zM90 127h6v5h-6zM74 137h3v5h-3zM515 137h9v5h-9zM508 256h7v5h-7z"/>
<path fill="#7703fa" d="M115 121h12v6h-12zM258 121h7v6h-7zM265 127h6v5h-6zM271 132h6v5h-6zM515 142h6v5h-6zM502 173h6v5h-6zM508 194h7v5h-7zM508 199h7v5h-7zM383 240h7v5h-7zM508 250h7v6h-7zM377 256h6v5h-6zM365 261h6v5h-6zM321 276h6v5h-6zM515 276h6v5h-6zM74 281h3v5h-3zM521 281h3v5h-3z"/>
<path fill="#7a03fd" d="M127 121h13v6h-13zM146 121h75v6h-75zM258 127h7v5h-7zM265 132h6v5h-6zM508 204h7v5h-7zM508 209h7v5h-7zM508 214h7v5h-7zM508 219h7v6h-7zM271 276h6v5h-6z"/>
<path fill="#7c03fe" d="M140 121h6v6h-6zM221 121h31v6h-31zM102 132h6v5h-6zM96 137h6v5h-6zM77 142h6v5h-6zM271 142h6v5h-6zM508 173h7v5h-7zM508 178h7v5h-7zM377 240h6v5h-6zM377 250h6v6h-6zM365 256h12v5h-12zM515 261h6v5h-6zM340 271h6v5h-6zM74 276h3v5h-3zM521 276h3v5h-3z"/>
<path fill="#7a03fc" d="M252 121h6v6h-6zM83 137h7v5h-7zM271 137h6v5h-6z"/>
<path fill="#5d01bf" d="M377 121h6v6h-6zM490 235h6v5h-6zM490 240h6v5h-6zM490 245h6v5h-6z"/>
<path fill="#5900b0" d="M383 121h7v6h-7zM446 209h6v5h-6z"/>
<path fill="#5500a5" d="M390 121h6v6h-6zM415 261h6v5h-6zM415 266h6v5h-6zM371 286h6v6h-6zM496 286h6v6h-6z"/>
<path fill="#52009b" d="M402 121h19v6h-19zM446 121h6v6h-6zM433 256h7v5h-7zM421 266h6v5h-6zM458 281h19v5h-19zM458 286h13v6h-13zM440 292h6v5h-6z"/>
<path fill="#52009a" d="M421 121h25v6h-25zM296 204h6v5h-6zM290 209h6v5h-6zM477 240h6v5h-6zM477 245h6v5h-6zM477 250h6v6h-6zM440 256h6v5h-6zM477 256h6v5h-6zM477 261h6v5h-6zM371 292h6v5h-6zM283 317h7v6h-7zM271 323h6v5h-6zM515 328h6v5h-6zM265 338h6v5h-6zM265 343h6v5h-6zM265 348h6v6h-6zM265 354h6v5h-6zM265 359h6v5h-6zM277 359h6v5h-6zM265 364h6v5h-6zM77 369h6v5h-6zM83 374h7v5h-7zM258 374h7v5h-7zM90 384h6v6h-6zM252 384h6v6h-6zM96 395h6v5h-6zM246 395h6v5h-6zM102 400h6v5h-6zM240 400h6v5h-6zM108 405h7v5h-7zM233 405h7v5h-7zM115 410h6v5h-6zM227 410h6v5h-6zM121 415h100v3h-100z"/>
<path fill="#53009d" d="M458 121h7v6h-7zM471 225h6v5h-6zM465 240h6v5h-6zM458 245h7v5h-7zM458 250h7v6h-7zM458 256h7v5h-7zM471 271h6v5h-6zM471 276h6v5h-6zM377 286h6v6h-6z"/>
<path fill="#5600a9" d="M471 121h6v6h-6zM402 127h13v5h-13zM477 183h6v6h-6z"/>
<path fill="#5e01c0" d="M477 121h6v6h-6zM415 137h6v5h-6zM427 142h6v5h-6zM452 178h6v5h-6z"/>
<path fill="#7002ef" d="M74 127h3v5h-3zM521 127h3v5h-3zM433 204h7v5h-7zM74 302h3v5h-3zM521 302h3v5h-3z"/>
<path fill="#7502f8" d="M96 127h6v5h-6zM508 142h7v5h-7zM315 276h6v5h-6z"/>
<path fill="#7803fb" d="M102 127h6v5h-6zM90 132h6v5h-6zM74 142h3v5h-3zM521 142h3v5h-3zM408 189h7v5h-7zM508 189h7v5h-7zM408 214h7v5h-7zM383 235h7v5h-7zM358 266h7v5h-7zM515 271h6v5h-6z"/>
<path fill="#7b03fe" d="M115 127h12v5h-12zM296 142h12v5h-12zM74 147h3v5h-3zM308 147h13v5h-13zM515 147h9v5h-9zM321 152h6v6h-6zM327 163h6v5h-6zM508 168h7v5h-7zM333 173h7v5h-7zM283 204h7v5h-7zM308 204h7v5h-7zM333 209h7v5h-7zM415 209h6v5h-6zM283 214h7v5h-7zM340 214h6v5h-6zM402 214h6v5h-6zM390 219h6v6h-6zM383 225h7v5h-7zM290 271h6v5h-6zM302 271h6v5h-6zM90 292h6v5h-6zM265 292h6v5h-6zM90 297h12v5h-12zM96 302h6v5h-6zM102 307h6v5h-6zM258 307h7v5h-7zM108 312h13v5h-13zM115 317h43v6h-43zM133 323h38v5h-38zM246 323h6v5h-6zM140 328h62v5h-62zM227 328h6v5h-6zM190 333h37v5h-37z"/>
<path fill="#7e04ff" d="M127 127h13v5h-13zM146 127h75v5h-75zM258 132h7v5h-7zM90 142h6v5h-6zM277 147h31v5h-31zM74 152h3v6h-3zM296 152h25v6h-25zM521 152h3v6h-3zM321 158h6v5h-6zM515 158h6v5h-6zM515 163h6v5h-6zM327 168h6v5h-6zM515 168h6v5h-6zM346 178h6v5h-6zM358 183h7v6h-7zM371 189h31v5h-31zM290 199h6v5h-6zM315 204h12v5h-12zM396 214h6v5h-6zM340 219h6v6h-6zM308 225h7v5h-7zM327 225h6v5h-6zM515 256h6v5h-6zM352 266h6v5h-6zM74 271h3v5h-3zM277 271h13v5h-13zM308 271h7v5h-7zM521 271h3v5h-3zM77 276h6v5h-6zM83 281h7v5h-7zM265 281h6v5h-6zM90 286h6v6h-6zM265 286h6v6h-6zM96 292h6v5h-6zM102 297h6v5h-6zM102 302h6v5h-6zM258 302h7v5h-7zM108 307h13v5h-13zM121 312h37v5h-37zM252 312h6v5h-6zM158 317h13v6h-13zM171 323h31v5h-31zM233 323h13v5h-13zM202 328h25v5h-25z"/>
<path fill="#8004ff" d="M140 127h6v5h-6zM221 127h31v5h-31zM115 132h12v5h-12zM102 137h6v5h-6zM96 142h6v5h-6zM83 147h7v5h-7zM74 158h3v5h-3zM296 158h25v5h-25zM521 158h3v5h-3zM321 163h6v5h-6zM327 173h6v5h-6zM515 183h6v6h-6zM365 189h6v5h-6zM415 194h6v5h-6zM302 199h6v5h-6zM415 204h6v5h-6zM340 209h6v5h-6zM408 209h7v5h-7zM315 225h12v5h-12zM333 225h7v5h-7zM296 230h6v5h-6zM508 230h7v5h-7zM508 235h7v5h-7zM508 240h7v5h-7zM352 261h6v5h-6zM77 271h6v5h-6zM271 271h6v5h-6zM83 276h7v5h-7zM90 281h6v5h-6zM96 286h6v6h-6zM102 292h6v5h-6zM108 297h7v5h-7zM258 297h7v5h-7zM108 302h7v5h-7zM121 307h31v5h-31zM158 312h7v5h-7zM171 317h12v6h-12zM246 317h6v6h-6zM202 323h31v5h-31z"/>
<path fill="#7d04ff" d="M252 127h6v5h-6zM265 137h6v5h-6zM515 152h6v6h-6zM333 271h7v5h-7z"/>
<path fill="#6001c5" d="M340 127h6v5h-6zM340 132h6v5h-6zM365 137h6v5h-6zM390 142h6v5h-6zM371 147h6v5h-6zM402 147h13v5h-13zM440 178h6v5h-6zM352 281h6v5h-6zM365 281h6v5h-6z"/>
<path fill="#5800ae" d="M390 127h6v5h-6zM490 256h6v5h-6zM490 261h6v5h-6zM74 343h3v5h-3zM521 343h3v5h-3z"/>
<path fill="#5600a8" d="M415 127h12v5h-12zM452 132h6v5h-6zM446 183h6v6h-6zM427 256h6v5h-6z"/>
<path fill="#5600a7" d="M427 127h13v5h-13zM465 127h6v5h-6zM390 261h6v5h-6zM383 271h7v5h-7z"/>
<path fill="#6d02e8" d="M496 127h6v5h-6zM421 194h6v5h-6zM427 199h6v5h-6z"/>
<path fill="#6e02eb" d="M508 127h7v5h-7zM496 132h6v5h-6zM365 168h6v5h-6zM290 276h6v5h-6zM508 281h7v5h-7z"/>
<path fill="#7302f3" d="M74 132h3v5h-3zM521 132h3v5h-3zM496 168h6v5h-6zM74 286h3v6h-3zM521 286h3v6h-3z"/>
<path fill="#7d04fe" d="M108 132h7v5h-7zM508 225h7v5h-7zM508 245h7v5h-7z"/>
<path fill="#8204ff" d="M127 132h13v5h-13zM146 132h75v5h-75zM74 163h3v5h-3zM521 163h3v5h-3zM365 250h6v6h-6z"/>
<path fill="#8405fd" d="M140 132h6v5h-6zM246 132h6v5h-6zM108 142h7v5h-7zM515 209h6v5h-6zM515 214h6v5h-6zM365 240h12v5h-12zM358 256h7v5h-7z"/>
<path fill="#8706fa" d="M221 132h25v5h-25zM108 147h7v5h-7zM371 250h6v6h-6z"/>
<path fill="#8104ff" d="M252 132h6v5h-6zM108 137h7v5h-7zM90 147h6v5h-6zM271 147h6v5h-6zM515 178h6v5h-6zM515 194h6v5h-6zM515 199h6v5h-6zM515 204h6v5h-6zM515 250h6v6h-6zM74 266h3v5h-3zM340 266h12v5h-12zM521 266h3v5h-3z"/>
<path fill="#5f01c2" d="M352 132h6v5h-6zM415 142h6v5h-6zM427 152h6v6h-6zM433 158h7v5h-7zM433 163h7v5h-7zM433 168h7v5h-7zM465 173h6v5h-6zM458 178h13v5h-13zM433 219h7v6h-7zM421 235h6v5h-6zM440 235h6v5h-6zM402 256h6v5h-6zM377 271h6v5h-6z"/>
<path fill="#6101c9" d="M365 132h6v5h-6zM377 132h6v5h-6zM352 137h13v5h-13zM377 137h6v5h-6zM390 147h6v5h-6zM396 158h6v5h-6zM396 163h6v5h-6zM396 168h6v5h-6zM396 173h6v5h-6zM458 199h7v5h-7zM427 219h6v6h-6zM415 235h6v5h-6z"/>
<path fill="#5b01b5" d="M427 132h6v5h-6zM446 152h6v6h-6zM458 152h7v6h-7z"/>
<path fill="#5700ab" d="M446 132h6v5h-6zM458 132h7v5h-7zM452 137h6v5h-6zM471 183h6v6h-6zM446 214h6v5h-6zM452 225h6v5h-6zM433 230h7v5h-7zM433 235h7v5h-7zM452 240h6v5h-6zM452 245h6v5h-6zM483 266h7v5h-7zM490 276h6v5h-6z"/>
<path fill="#5a00b3" d="M465 132h6v5h-6zM471 214h6v5h-6zM333 292h7v5h-7z"/>
<path fill="#6f02ee" d="M502 132h6v5h-6z"/>
<path fill="#7202f3" d="M515 132h6v5h-6zM502 142h6v5h-6zM496 152h6v6h-6zM502 189h6v5h-6zM421 204h6v5h-6zM508 261h7v5h-7zM333 276h7v5h-7z"/>
<path fill="#7b03fd" d="M90 137h6v5h-6zM508 152h7v6h-7zM508 158h7v5h-7zM508 163h7v5h-7zM383 245h7v5h-7zM358 261h7v5h-7z"/>
<path fill="#8305fe" d="M115 137h12v5h-12zM102 142h6v5h-6zM265 142h6v5h-6zM96 147h6v5h-6zM77 152h6v6h-6zM277 152h19v6h-19zM308 163h13v5h-13zM352 183h6v6h-6zM358 189h7v5h-7zM415 199h6v5h-6zM327 204h6v5h-6zM346 209h6v5h-6zM402 209h6v5h-6zM346 214h6v5h-6zM390 214h6v5h-6zM283 219h7v6h-7zM346 219h6v6h-6zM383 219h7v6h-7zM371 245h6v5h-6zM346 261h6v5h-6zM315 271h6v5h-6zM258 292h7v5h-7zM115 297h6v5h-6zM146 297h12v5h-12zM115 302h12v5h-12zM152 307h6v5h-6zM252 307h6v5h-6zM165 312h6v5h-6zM183 317h25v6h-25zM240 317h6v6h-6z"/>
<path fill="#8605fc" d="M127 137h13v5h-13zM146 137h75v5h-75zM296 163h12v5h-12zM321 168h6v5h-6zM340 178h6v5h-6zM358 194h32v5h-32zM396 209h6v5h-6zM352 214h6v5h-6zM352 219h6v6h-6zM290 225h6v5h-6zM340 225h6v5h-6zM377 225h6v5h-6zM377 230h6v5h-6zM83 271h7v5h-7zM90 276h6v5h-6zM96 281h6v5h-6zM102 286h6v6h-6zM258 286h7v6h-7zM108 292h7v5h-7zM121 297h6v5h-6zM127 302h25v5h-25zM252 302h6v5h-6zM158 307h7v5h-7zM171 312h6v5h-6zM246 312h6v5h-6zM208 317h13v6h-13zM227 317h13v6h-13z"/>
<path fill="#8806f9" d="M140 137h6v5h-6zM265 147h6v5h-6zM90 158h6v5h-6zM77 173h13v5h-13zM283 199h7v5h-7zM352 209h6v5h-6zM358 219h7v6h-7zM346 225h19v5h-19zM377 235h6v5h-6zM77 266h6v5h-6zM258 281h7v5h-7zM127 297h6v5h-6zM252 297h6v5h-6zM177 312h6v5h-6z"/>
<path fill="#8d07ef" d="M221 137h19v5h-19zM246 137h6v5h-6zM77 194h13v5h-13zM77 199h6v5h-6zM358 199h7v5h-7zM352 204h6v5h-6zM358 209h7v5h-7zM365 214h6v5h-6zM377 214h6v5h-6zM371 219h6v6h-6zM371 225h6v5h-6zM358 230h7v5h-7zM77 261h6v5h-6zM96 276h6v5h-6zM102 281h6v5h-6zM108 286h7v6h-7zM158 297h7v5h-7zM208 312h7v5h-7z"/>
<path fill="#9008e8" d="M240 137h6v5h-6zM121 158h6v5h-6zM315 168h6v5h-6zM102 183h6v6h-6zM396 194h12v5h-12zM365 199h12v5h-12zM77 204h6v5h-6zM402 204h6v5h-6zM371 214h6v5h-6zM302 230h6v5h-6zM90 271h6v5h-6zM252 286h6v6h-6zM121 292h6v5h-6zM146 292h6v5h-6zM246 297h6v5h-6zM158 302h7v5h-7zM246 302h6v5h-6zM171 307h6v5h-6z"/>
<path fill="#8a06f6" d="M252 137h6v5h-6zM102 152h6v6h-6zM90 163h6v5h-6zM96 168h6v5h-6zM265 266h6v5h-6zM308 266h7v5h-7z"/>
<path fill="#8405fe" d="M258 137h7v5h-7zM83 152h7v6h-7z"/>
<path fill="#5800af" d="M446 137h6v5h-6zM458 137h7v5h-7zM490 266h6v5h-6z"/>
<path fill="#5b01b9" d="M465 137h6v5h-6z"/>
<path fill="#7102f0" d="M502 137h6v5h-6zM365 173h6v5h-6zM390 235h6v5h-6zM358 271h7v5h-7zM308 276h7v5h-7z"/>
<path fill="#7302f5" d="M508 137h7v5h-7z"/>
<path fill="#7d03fe" d="M83 142h7v5h-7z"/>
<path fill="#8605fb" d="M115 142h12v5h-12zM96 152h6v6h-6zM77 158h6v5h-6zM77 163h6v5h-6zM515 219h6v6h-6zM515 245h6v5h-6z"/>
<path fill="#8906f8" d="M127 142h13v5h-13zM146 142h75v5h-75zM77 168h13v5h-13zM74 183h3v6h-3zM521 183h3v6h-3zM74 189h3v5h-3zM521 189h3v5h-3zM74 256h3v5h-3zM521 256h3v5h-3zM340 261h6v5h-6zM327 266h6v5h-6z"/>
<path fill="#8b07f3" d="M140 142h6v5h-6zM240 312h6v5h-6z"/>
<path fill="#9309de" d="M221 142h12v5h-12zM140 152h81v6h-81zM258 271h7v5h-7z"/>
<path fill="#950ad5" d="M233 142h7v5h-7z"/>
<path fill="#950ad6" d="M240 142h6v5h-6zM271 163h6v5h-6z"/>
<path fill="#9309df" d="M246 142h6v5h-6zM115 168h6v5h-6z"/>
<path fill="#9008e9" d="M252 142h6v5h-6zM352 230h6v5h-6zM365 230h6v5h-6z"/>
<path fill="#8906f7" d="M258 142h7v5h-7zM115 147h12v5h-12zM96 158h6v5h-6zM90 168h6v5h-6zM74 178h3v5h-3zM521 178h3v5h-3zM515 225h6v5h-6z"/>
<path fill="#6001c8" d="M358 142h7v5h-7zM402 173h6v5h-6z"/>
<path fill="#6001c6" d="M383 142h7v5h-7zM471 142h6v5h-6zM402 152h13v6h-13zM402 158h13v5h-13zM402 163h13v5h-13zM408 168h7v5h-7zM452 199h6v5h-6zM452 204h6v5h-6zM358 281h7v5h-7z"/>
<path fill="#7002ee" d="M496 142h6v5h-6zM490 152h6v6h-6zM490 158h6v5h-6zM490 163h6v5h-6zM490 168h6v5h-6zM427 204h6v5h-6zM421 209h6v5h-6zM390 240h6v5h-6zM508 266h7v5h-7z"/>
<path fill="#7f04ff" d="M77 147h6v5h-6zM515 173h6v5h-6zM515 189h6v5h-6zM327 271h6v5h-6zM265 276h6v5h-6z"/>
<path fill="#8705fb" d="M102 147h6v5h-6z"/>
<path fill="#8c07f3" d="M127 147h13v5h-13zM121 152h6v6h-6zM515 230h6v5h-6zM515 235h6v5h-6zM515 240h6v5h-6z"/>
<path fill="#8e08ed" d="M140 147h81v5h-81zM127 152h6v6h-6zM115 158h6v5h-6zM271 158h6v5h-6zM108 163h7v5h-7z"/>
<path fill="#980bcb" d="M221 147h12v5h-12z"/>
<path fill="#9a0cc0" d="M233 147h13v5h-13z"/>
<path fill="#970bcc" d="M246 147h6v5h-6zM258 158h7v5h-7z"/>
<path fill="#940ad8" d="M252 147h6v5h-6zM290 163h6v5h-6zM308 168h7v5h-7zM327 178h6v5h-6zM340 183h6v6h-6zM377 199h6v5h-6zM390 199h18v5h-18zM83 204h7v5h-7zM277 204h6v5h-6zM340 204h6v5h-6zM277 209h6v5h-6zM371 209h12v5h-12zM77 214h6v5h-6zM290 230h6v5h-6zM83 261h7v5h-7zM102 276h6v5h-6zM108 281h7v5h-7zM115 286h6v6h-6zM133 292h13v5h-13zM165 297h6v5h-6zM165 302h6v5h-6zM177 307h6v5h-6z"/>
<path fill="#8e08ec" d="M258 147h7v5h-7z"/>
<path fill="#5900af" d="M452 147h6v5h-6zM446 189h6v5h-6zM446 194h6v5h-6z"/>
<path fill="#8505fd" d="M90 152h6v6h-6zM74 173h3v5h-3zM521 173h3v5h-3zM74 261h3v5h-3zM521 261h3v5h-3zM271 266h19v5h-19zM333 266h7v5h-7zM265 271h6v5h-6z"/>
<path fill="#8a06f5" d="M108 152h7v6h-7zM408 204h7v5h-7z"/>
<path fill="#8c07f2" d="M115 152h6v6h-6zM102 163h6v5h-6zM77 178h31v5h-31zM352 256h6v5h-6zM258 276h7v5h-7z"/>
<path fill="#9008e6" d="M133 152h7v6h-7zM108 178h7v5h-7z"/>
<path fill="#9c0db5" d="M221 152h12v6h-12z"/>
<path fill="#9e0fa9" d="M233 152h13v6h-13zM233 307h7v5h-7z"/>
<path fill="#9c0db6" d="M246 152h6v6h-6z"/>
<path fill="#990cc5" d="M252 152h6v6h-6z"/>
<path fill="#9309dd" d="M258 152h7v6h-7zM346 256h6v5h-6z"/>
<path fill="#8d07f0" d="M265 152h6v6h-6zM102 158h13v5h-13zM102 168h6v5h-6z"/>
<path fill="#8706fb" d="M271 152h6v6h-6zM83 158h7v5h-7zM83 163h7v5h-7z"/>
<path fill="#5f01c5" d="M415 152h6v6h-6zM496 261h6v5h-6z"/>
<path fill="#7602f8" d="M502 152h6v6h-6zM502 158h6v5h-6zM502 163h6v5h-6zM502 168h6v5h-6zM415 189h6v5h-6zM277 276h6v5h-6zM515 281h6v5h-6z"/>
<path fill="#9209e0" d="M127 158h6v5h-6zM277 163h6v5h-6z"/>
<path fill="#950ad8" d="M133 158h7v5h-7zM283 163h7v5h-7zM252 281h6v5h-6z"/>
<path fill="#970bce" d="M140 158h6v5h-6zM327 261h6v5h-6zM246 286h6v6h-6zM202 307h6v5h-6z"/>
<path fill="#990cc4" d="M146 158h75v5h-75zM90 204h6v5h-6zM371 204h6v5h-6zM390 204h6v5h-6zM83 214h7v5h-7zM77 225h6v5h-6zM77 245h6v5h-6zM83 256h7v5h-7zM90 266h6v5h-6zM121 286h6v6h-6zM190 307h12v5h-12z"/>
<path fill="#a00f9f" d="M221 158h12v5h-12z"/>
<path fill="#a21191" d="M233 158h13v5h-13z"/>
<path fill="#a00fa0" d="M246 158h6v5h-6zM271 168h6v5h-6z"/>
<path fill="#9d0eb0" d="M252 158h6v5h-6z"/>
<path fill="#9209e3" d="M265 158h6v5h-6z"/>
<path fill="#8b07f4" d="M277 158h19v5h-19zM96 163h6v5h-6zM90 173h12v5h-12zM321 173h6v5h-6zM333 178h7v5h-7zM77 183h25v6h-25zM346 183h6v6h-6zM77 189h19v5h-19zM352 189h6v5h-6zM74 194h3v5h-3zM352 194h6v5h-6zM390 194h6v5h-6zM521 194h3v5h-3zM74 199h3v5h-3zM352 199h6v5h-6zM521 199h3v5h-3zM346 204h6v5h-6zM396 204h6v5h-6zM390 209h6v5h-6zM358 214h7v5h-7zM383 214h7v5h-7zM365 219h6v6h-6zM377 219h6v6h-6zM365 225h6v5h-6zM115 292h6v5h-6zM252 292h6v5h-6zM133 297h13v5h-13zM152 302h6v5h-6zM165 307h6v5h-6zM246 307h6v5h-6zM183 312h25v5h-25z"/>
<path fill="#7302f4" d="M496 158h6v5h-6zM496 163h6v5h-6zM496 173h6v5h-6zM365 266h6v5h-6zM283 276h7v5h-7z"/>
<path fill="#8f08e9" d="M115 163h6v5h-6z"/>
<path fill="#9109e4" d="M121 163h6v5h-6zM74 219h3v6h-3zM521 219h3v6h-3z"/>
<path fill="#960ad3" d="M127 163h6v5h-6zM115 173h6v5h-6z"/>
<path fill="#9a0dbe" d="M133 163h7v5h-7z"/>
<path fill="#9d0eb2" d="M140 163h6v5h-6z"/>
<path fill="#9f0fa6" d="M146 163h75v5h-75z"/>
<path fill="#a41281" d="M221 163h19v5h-19z"/>
<path fill="#a61375" d="M240 163h6v5h-6z"/>
<path fill="#a41282" d="M246 163h6v5h-6z"/>
<path fill="#a21190" d="M252 163h6v5h-6z"/>
<path fill="#9e0ead" d="M258 163h7v5h-7zM96 204h6v5h-6zM296 235h6v5h-6z"/>
<path fill="#980bc9" d="M265 163h6v5h-6zM358 250h7v6h-7z"/>
<path fill="#8205fe" d="M74 168h3v5h-3zM521 168h3v5h-3zM321 271h6v5h-6z"/>
<path fill="#8f08eb" d="M108 168h7v5h-7zM74 214h3v5h-3zM521 214h3v5h-3z"/>
<path fill="#970bcf" d="M121 168h6v5h-6zM296 168h12v5h-12zM96 194h6v5h-6zM90 199h6v5h-6zM383 199h7v5h-7zM333 204h7v5h-7zM365 204h6v5h-6zM83 209h7v5h-7zM277 214h6v5h-6zM77 219h6v6h-6zM283 225h7v5h-7zM340 230h6v5h-6zM77 250h6v6h-6zM96 271h6v5h-6zM183 307h7v5h-7z"/>
<path fill="#9b0dba" d="M127 168h6v5h-6z"/>
<path fill="#9f0fa1" d="M133 168h7v5h-7zM277 168h6v5h-6z"/>
<path fill="#a3118b" d="M140 168h6v5h-6z"/>
<path fill="#a61473" d="M146 168h25v5h-25z"/>
<path fill="#a5127f" d="M171 168h50v5h-50z"/>
<path fill="#a81566" d="M221 168h6v5h-6z"/>
<path fill="#aa165a" d="M227 168h13v5h-13z"/>
<path fill="#ab174d" d="M240 168h6v5h-6zM246 178h6v5h-6z"/>
<path fill="#b11d1c" d="M246 168h6v5h-6z"/>
<path fill="#ab174f" d="M252 168h6v5h-6z"/>
<path fill="#a61378" d="M258 168h7v5h-7z"/>
<path fill="#a21192" d="M265 168h6v5h-6z"/>
<path fill="#a3118c" d="M283 168h7v5h-7zM90 225h6v5h-6zM108 271h7v5h-7zM171 297h6v5h-6z"/>
<path fill="#a51280" d="M290 168h6v5h-6zM202 178h13v5h-13zM315 199h6v5h-6zM340 199h6v5h-6zM246 276h6v5h-6zM146 286h6v6h-6zM183 302h7v5h-7zM202 302h6v5h-6z"/>
<path fill="#8d07ee" d="M102 173h6v5h-6z"/>
<path fill="#9209e1" d="M108 173h7v5h-7zM96 189h6v5h-6zM90 194h6v5h-6zM83 199h7v5h-7zM346 199h6v5h-6zM358 204h7v5h-7zM77 209h6v5h-6zM365 209h6v5h-6zM383 209h7v5h-7zM346 230h6v5h-6zM371 230h6v5h-6zM77 256h6v5h-6zM83 266h7v5h-7zM127 292h6v5h-6zM152 292h6v5h-6zM246 292h6v5h-6zM227 312h6v5h-6z"/>
<path fill="#9a0cc1" d="M121 173h6v5h-6zM258 266h7v5h-7zM240 292h6v5h-6z"/>
<path fill="#9e0ea9" d="M127 173h6v5h-6zM340 256h6v5h-6z"/>
<path fill="#a31289" d="M133 173h7v5h-7z"/>
<path fill="#a71471" d="M140 173h6v5h-6zM108 199h7v5h-7zM215 302h6v5h-6z"/>
<path fill="#ac184b" d="M146 173h19v5h-19zM121 183h6v6h-6z"/>
<path fill="#aa1658" d="M165 173h31v5h-31zM108 204h7v5h-7z"/>
<path fill="#a81564" d="M196 173h19v5h-19z"/>
<path fill="#a81563" d="M215 173h6v5h-6zM140 178h6v5h-6z"/>
<path fill="#b01c25" d="M221 173h6v5h-6z"/>
<path fill="#b21e12" d="M227 173h6v5h-6z"/>
<path fill="#b42000" d="M233 173h13v5h-13z"/>
<path fill="#b62200" d="M246 173h6v5h-6zM258 173h7v5h-7z"/>
<path fill="#b42001" d="M252 173h6v5h-6z"/>
<path fill="#b41f04" d="M265 173h6v5h-6z"/>
<path fill="#b01b29" d="M271 173h6v5h-6zM265 256h6v5h-6zM233 286h7v6h-7z"/>
<path fill="#ad193c" d="M277 173h6v5h-6zM346 189h6v5h-6zM277 199h6v5h-6zM327 199h6v5h-6zM271 214h6v5h-6zM315 230h6v5h-6zM90 235h6v5h-6zM83 240h7v5h-7zM246 271h6v5h-6zM165 292h6v5h-6z"/>
<path fill="#b62100" d="M283 173h7v5h-7zM340 189h6v5h-6zM352 245h6v5h-6zM227 292h6v5h-6z"/>
<path fill="#bc2900" d="M290 173h6v5h-6zM140 189h6v5h-6zM196 189h6v5h-6zM233 189h13v5h-13zM196 194h6v5h-6zM221 194h6v5h-6zM246 199h6v5h-6zM121 204h6v5h-6zM115 214h6v5h-6zM271 219h6v6h-6zM277 230h6v5h-6zM340 235h6v5h-6zM96 245h6v5h-6zM252 256h6v5h-6zM277 256h6v5h-6zM108 261h7v5h-7zM246 266h6v5h-6zM127 276h6v5h-6zM140 281h6v5h-6zM233 281h7v5h-7zM158 286h7v6h-7zM196 297h6v5h-6z"/>
<path fill="#c53700" d="M296 173h6v5h-6zM165 194h12v5h-12zM127 204h6v5h-6zM208 204h7v5h-7zM221 204h6v5h-6zM127 209h6v5h-6zM127 235h6v5h-6zM340 250h6v6h-6z"/>
<path fill="#c53600" d="M302 173h6v5h-6zM183 199h7v5h-7zM127 230h6v5h-6z"/>
<path fill="#bc2800" d="M308 173h7v5h-7zM315 178h6v5h-6zM190 189h6v5h-6zM227 189h6v5h-6z"/>
<path fill="#9d0eae" d="M315 173h6v5h-6zM102 194h6v5h-6z"/>
<path fill="#9e0eac" d="M115 178h6v5h-6zM333 183h7v6h-7zM346 194h6v5h-6zM321 199h6v5h-6zM90 214h6v5h-6zM83 225h7v5h-7zM327 230h6v5h-6zM77 235h6v5h-6zM83 250h7v6h-7zM102 271h6v5h-6zM246 281h6v5h-6zM133 286h7v6h-7z"/>
<path fill="#a2118f" d="M121 178h6v5h-6zM296 261h12v5h-12z"/>
<path fill="#a5137a" d="M127 178h6v5h-6z"/>
<path fill="#a5137b" d="M133 178h7v5h-7z"/>
<path fill="#ac1845" d="M146 178h31v5h-31z"/>
<path fill="#aa1656" d="M177 178h19v5h-19zM352 240h6v5h-6z"/>
<path fill="#aa1756" d="M196 178h6v5h-6z"/>
<path fill="#a9165f" d="M215 178h6v5h-6z"/>
<path fill="#b11d1a" d="M221 178h6v5h-6z"/>
<path fill="#b21d18" d="M227 178h6v5h-6zM90 245h6v5h-6z"/>
<path fill="#b21d17" d="M233 178h7v5h-7z"/>
<path fill="#ae193b" d="M240 178h6v5h-6z"/>
<path fill="#c02f00" d="M252 178h13v5h-13zM121 214h6v5h-6zM290 256h6v5h-6z"/>
<path fill="#c43400" d="M265 178h6v5h-6zM152 189h19v5h-19zM133 194h7v5h-7zM127 199h6v5h-6zM177 199h6v5h-6zM215 199h6v5h-6z"/>
<path fill="#c43500" d="M271 178h6v5h-6zM146 189h6v5h-6zM140 194h6v5h-6zM321 194h6v5h-6zM246 204h12v5h-12zM258 214h7v5h-7zM277 235h6v5h-6zM252 250h6v6h-6zM271 250h6v6h-6zM240 266h6v5h-6zM227 276h6v5h-6zM146 281h6v5h-6zM227 281h6v5h-6zM221 286h6v6h-6zM177 292h13v5h-13zM202 292h6v5h-6z"/>
<path fill="#c83b00" d="M277 178h6v5h-6zM277 194h6v5h-6zM183 204h7v5h-7zM202 204h6v5h-6zM240 204h6v5h-6zM246 209h6v5h-6zM252 214h6v5h-6zM127 219h6v6h-6zM258 219h13v6h-13zM271 230h6v5h-6zM246 256h6v5h-6zM115 261h6v5h-6zM121 266h6v5h-6zM121 271h6v5h-6zM233 271h7v5h-7zM133 276h7v5h-7zM152 281h6v5h-6zM221 281h6v5h-6zM165 286h6v6h-6zM208 286h13v6h-13zM190 292h12v5h-12z"/>
<path fill="#d45400" d="M283 178h7v5h-7zM277 189h6v5h-6zM271 199h6v5h-6zM140 219h6v6h-6zM202 219h6v6h-6zM233 225h13v5h-13zM240 230h6v5h-6zM246 240h19v5h-19zM240 245h6v5h-6zM277 245h6v5h-6zM121 261h6v5h-6zM227 261h6v5h-6zM127 271h6v5h-6zM146 276h6v5h-6zM177 286h13v6h-13zM196 286h6v6h-6z"/>
<path fill="#d65900" d="M290 178h6v5h-6zM271 183h6v6h-6zM290 189h6v5h-6z"/>
<path fill="#da6400" d="M296 178h6v5h-6zM158 219h7v6h-7zM202 225h6v5h-6zM146 245h6v5h-6zM296 245h6v5h-6zM333 245h7v5h-7zM283 250h7v6h-7zM321 250h6v6h-6z"/>
<path fill="#da6500" d="M302 178h6v5h-6zM252 189h6v5h-6zM221 225h6v5h-6z"/>
<path fill="#d24e00" d="M308 178h7v5h-7z"/>
<path fill="#aa165b" d="M321 178h6v5h-6zM202 183h6v6h-6zM333 199h7v5h-7zM96 230h6v5h-6zM321 230h6v5h-6zM102 261h6v5h-6zM190 302h12v5h-12z"/>
<path fill="#960bd0" d="M108 183h7v6h-7zM371 235h6v5h-6z"/>
<path fill="#9c0eb2" d="M115 183h6v6h-6z"/>
<path fill="#af1b2d" d="M127 183h6v6h-6z"/>
<path fill="#af1a30" d="M133 183h7v6h-7z"/>
<path fill="#b31e0d" d="M140 183h6v6h-6zM190 183h6v6h-6z"/>
<path fill="#b72300" d="M146 183h31v6h-31zM246 194h6v5h-6zM115 209h6v5h-6zM108 214h7v5h-7z"/>
<path fill="#b31e0f" d="M177 183h6v6h-6zM346 240h6v5h-6z"/>
<path fill="#b31e0e" d="M183 183h7v6h-7z"/>
<path fill="#b31e0c" d="M196 183h6v6h-6zM115 204h6v5h-6z"/>
<path fill="#a61474" d="M208 183h7v6h-7zM283 194h7v5h-7zM96 219h6v6h-6zM277 219h6v6h-6zM90 230h6v5h-6zM283 230h7v5h-7zM83 235h7v5h-7zM83 245h7v5h-7zM152 286h6v6h-6z"/>
<path fill="#ae1a33" d="M215 183h6v6h-6zM315 261h6v5h-6z"/>
<path fill="#b92500" d="M221 183h6v6h-6zM108 219h7v6h-7z"/>
<path fill="#ba2600" d="M227 183h13v6h-13zM321 183h6v6h-6zM133 189h7v5h-7zM333 189h7v5h-7zM340 194h6v5h-6zM121 199h6v5h-6zM271 209h6v5h-6zM102 235h6v5h-6zM327 235h6v5h-6zM90 240h6v5h-6zM96 250h6v6h-6zM102 256h6v5h-6zM115 266h6v5h-6zM190 297h6v5h-6z"/>
<path fill="#af1b2a" d="M240 183h6v6h-6zM133 281h7v5h-7zM183 297h7v5h-7z"/>
<path fill="#b52100" d="M246 183h6v6h-6zM246 189h6v5h-6zM346 235h6v5h-6z"/>
<path fill="#c63800" d="M252 183h6v6h-6zM190 204h6v5h-6zM127 225h6v5h-6z"/>
<path fill="#d55600" d="M258 183h7v6h-7zM152 209h6v5h-6zM177 214h6v5h-6z"/>
<path fill="#d55700" d="M265 183h6v6h-6zM221 219h6v6h-6zM215 225h6v5h-6zM240 235h6v5h-6z"/>
<path fill="#dc6a00" d="M277 183h6v6h-6zM152 230h6v5h-6zM215 235h6v5h-6zM227 235h6v5h-6zM221 240h6v5h-6zM221 245h6v5h-6zM221 250h6v6h-6zM315 250h6v6h-6zM127 256h13v5h-13zM208 276h7v5h-7z"/>
<path fill="#e68800" d="M283 183h7v6h-7zM196 250h6v6h-6zM190 261h6v5h-6zM196 266h6v5h-6zM190 276h6v5h-6z"/>
<path fill="#e78d00" d="M290 183h12v6h-12z"/>
<path fill="#e48300" d="M302 183h6v6h-6zM115 256h6v5h-6zM133 261h7v5h-7z"/>
<path fill="#dd6b00" d="M308 183h7v6h-7zM308 245h7v5h-7zM115 250h6v6h-6z"/>
<path fill="#d85f00" d="M315 183h6v6h-6zM146 219h6v6h-6zM315 240h6v5h-6zM290 250h6v6h-6z"/>
<path fill="#a11097" d="M327 183h6v6h-6zM377 204h13v5h-13zM96 209h6v5h-6zM83 230h7v5h-7zM333 230h7v5h-7zM121 281h6v5h-6zM140 286h6v6h-6zM240 286h6v6h-6zM158 292h7v5h-7zM177 302h6v5h-6z"/>
<path fill="#970bd0" d="M102 189h6v5h-6z"/>
<path fill="#9b0dbd" d="M108 189h7v5h-7z"/>
<path fill="#a3118d" d="M115 189h6v5h-6z"/>
<path fill="#b92600" d="M121 189h6v5h-6zM108 225h7v5h-7zM108 230h7v5h-7z"/>
<path fill="#bb2700" d="M127 189h6v5h-6zM221 189h6v5h-6zM202 194h6v5h-6zM215 194h6v5h-6z"/>
<path fill="#be2c00" d="M171 189h12v5h-12zM233 194h13v5h-13zM121 209h6v5h-6zM115 219h6v6h-6zM108 235h7v5h-7zM96 240h6v5h-6z"/>
<path fill="#bf2d00" d="M183 189h7v5h-7zM177 194h6v5h-6zM115 225h6v5h-6zM115 230h6v5h-6zM346 245h6v5h-6z"/>
<path fill="#ad1941" d="M202 189h6v5h-6zM215 297h6v5h-6z"/>
<path fill="#ab174e" d="M208 189h7v5h-7zM290 235h6v5h-6zM302 235h6v5h-6zM96 256h6v5h-6zM108 266h7v5h-7zM115 271h6v5h-6zM121 276h6v5h-6zM127 281h6v5h-6zM240 281h6v5h-6zM177 297h6v5h-6z"/>
<path fill="#b52000" d="M215 189h6v5h-6z"/>
<path fill="#eb9d00" d="M258 189h7v5h-7z"/>
<path fill="#eda600" d="M265 189h6v5h-6zM196 240h6v5h-6zM183 245h13v5h-13zM165 261h6v5h-6zM140 266h6v5h-6z"/>
<path fill="#e99500" d="M271 189h6v5h-6zM171 235h6v5h-6z"/>
<path fill="#db6700" d="M283 189h7v5h-7zM177 219h6v6h-6zM227 230h6v5h-6zM227 240h6v5h-6zM227 245h6v5h-6zM221 256h6v5h-6z"/>
<path fill="#cd4500" d="M296 189h6v5h-6zM227 214h6v5h-6zM315 256h6v5h-6z"/>
<path fill="#e17800" d="M302 189h6v5h-6zM171 225h6v5h-6zM327 245h6v5h-6zM302 250h6v6h-6z"/>
<path fill="#df7300" d="M308 189h7v5h-7zM165 225h6v5h-6zM208 235h7v5h-7z"/>
<path fill="#dc6800" d="M315 189h6v5h-6zM208 230h7v5h-7zM146 235h6v5h-6zM302 245h6v5h-6z"/>
<path fill="#c12f00" d="M321 189h6v5h-6zM327 194h13v5h-13zM271 204h6v5h-6zM252 209h6v5h-6zM265 209h6v5h-6zM265 214h6v5h-6zM271 225h6v5h-6zM308 235h7v5h-7zM102 250h6v6h-6zM258 250h13v6h-13zM246 261h6v5h-6zM240 271h6v5h-6zM233 276h7v5h-7zM171 292h6v5h-6z"/>
<path fill="#a81568" d="M327 189h6v5h-6zM308 199h7v5h-7zM96 225h6v5h-6zM90 250h6v6h-6zM233 292h7v5h-7z"/>
<path fill="#6801db" d="M421 189h6v5h-6zM396 250h6v6h-6zM502 266h6v5h-6z"/>
<path fill="#6a01e0" d="M440 189h6v5h-6z"/>
<path fill="#5700a9" d="M477 189h6v5h-6zM408 266h7v5h-7zM483 276h7v5h-7zM452 281h6v5h-6zM365 286h6v6h-6zM302 307h6v5h-6z"/>
<path fill="#6e02ea" d="M496 189h6v5h-6zM427 209h13v5h-13z"/>
<path fill="#a31288" d="M108 194h7v5h-7z"/>
<path fill="#a7146e" d="M115 194h6v5h-6z"/>
<path fill="#b82400" d="M121 194h6v5h-6zM277 225h6v5h-6zM271 256h6v5h-6zM202 297h6v5h-6z"/>
<path fill="#c33300" d="M127 194h6v5h-6zM202 199h6v5h-6zM121 230h6v5h-6zM121 235h6v5h-6z"/>
<path fill="#ca3e00" d="M146 194h6v5h-6z"/>
<path fill="#c93d00" d="M152 194h13v5h-13zM208 209h7v5h-7zM127 240h6v5h-6z"/>
<path fill="#c02e00" d="M183 194h7v5h-7zM302 194h6v5h-6zM221 199h6v5h-6z"/>
<path fill="#c13000" d="M190 194h6v5h-6zM115 235h6v5h-6zM283 256h7v5h-7zM227 286h6v6h-6zM215 292h6v5h-6z"/>
<path fill="#b31f0a" d="M208 194h7v5h-7z"/>
<path fill="#be2b00" d="M227 194h6v5h-6zM221 292h6v5h-6z"/>
<path fill="#d25000" d="M252 194h6v5h-6zM152 204h13v5h-13zM340 245h6v5h-6z"/>
<path fill="#ea9800" d="M258 194h7v5h-7z"/>
<path fill="#e78e00" d="M265 194h6v5h-6zM171 230h6v5h-6z"/>
<path fill="#e07600" d="M271 194h6v5h-6zM158 230h7v5h-7zM158 245h7v5h-7z"/>
<path fill="#9209e2" d="M290 194h6v5h-6z"/>
<path fill="#960bd3" d="M296 194h6v5h-6z"/>
<path fill="#cf4900" d="M308 194h7v5h-7zM171 204h6v5h-6zM221 214h6v5h-6z"/>
<path fill="#c93e00" d="M315 194h6v5h-6zM133 199h7v5h-7zM321 235h6v5h-6zM333 250h7v6h-7z"/>
<path fill="#8f08ea" d="M408 194h7v5h-7zM408 199h7v5h-7zM233 312h7v5h-7z"/>
<path fill="#5e01c2" d="M465 194h6v5h-6zM440 230h6v5h-6z"/>
<path fill="#9b0db9" d="M96 199h6v5h-6zM90 209h6v5h-6zM83 219h7v6h-7zM77 230h6v5h-6zM308 230h7v5h-7zM77 240h6v5h-6zM90 261h6v5h-6zM96 266h6v5h-6zM108 276h7v5h-7zM115 281h6v5h-6zM127 286h6v6h-6zM171 302h6v5h-6zM240 302h6v5h-6z"/>
<path fill="#a11099" d="M102 199h6v5h-6z"/>
<path fill="#ad1942" d="M115 199h6v5h-6z"/>
<path fill="#cb4100" d="M140 199h6v5h-6zM177 204h6v5h-6zM258 204h13v5h-13zM202 209h6v5h-6zM240 209h6v5h-6zM246 214h6v5h-6zM252 219h6v6h-6zM252 225h19v5h-19zM258 245h13v5h-13zM246 250h6v6h-6zM277 250h6v6h-6zM108 256h7v5h-7zM240 261h6v5h-6zM233 266h7v5h-7zM221 276h6v5h-6z"/>
<path fill="#d04c00" d="M146 199h6v5h-6zM140 204h6v5h-6zM177 209h6v5h-6z"/>
<path fill="#cf4a00" d="M152 199h6v5h-6zM133 214h7v5h-7z"/>
<path fill="#cc4400" d="M158 199h13v5h-13zM190 209h6v5h-6zM208 214h7v5h-7zM108 250h7v6h-7z"/>
<path fill="#c83c00" d="M171 199h6v5h-6zM121 240h6v5h-6z"/>
<path fill="#c13100" d="M190 199h6v5h-6zM227 199h6v5h-6z"/>
<path fill="#c23200" d="M196 199h6v5h-6zM208 199h7v5h-7zM233 199h13v5h-13zM258 209h7v5h-7zM121 219h6v6h-6zM121 225h6v5h-6zM102 240h6v5h-6zM102 245h6v5h-6z"/>
<path fill="#c73a00" d="M252 199h6v5h-6zM196 204h6v5h-6zM233 204h7v5h-7zM127 214h6v5h-6zM321 256h6v5h-6z"/>
<path fill="#df7200" d="M258 199h7v5h-7zM158 240h7v5h-7z"/>
<path fill="#dc6900" d="M265 199h6v5h-6zM127 261h6v5h-6z"/>
<path fill="#8e07ee" d="M74 204h3v5h-3zM521 204h3v5h-3zM74 209h3v5h-3zM521 209h3v5h-3z"/>
<path fill="#a41283" d="M102 204h6v5h-6zM333 256h7v5h-7z"/>
<path fill="#cd4600" d="M133 204h7v5h-7zM183 209h7v5h-7z"/>
<path fill="#d35300" d="M146 204h6v5h-6zM165 209h12v5h-12zM227 219h6v6h-6zM333 240h7v5h-7z"/>
<path fill="#d14d00" d="M165 204h6v5h-6zM196 214h6v5h-6z"/>
<path fill="#c73900" d="M215 204h6v5h-6zM227 204h6v5h-6zM340 240h6v5h-6z"/>
<path fill="#480079" d="M302 204h6v5h-6zM315 209h6v5h-6zM415 281h6v5h-6zM390 292h6v5h-6zM390 297h12v5h-12zM458 302h19v5h-19zM502 323h6v5h-6zM508 338h7v5h-7zM508 343h7v5h-7zM508 348h7v6h-7zM508 354h7v5h-7zM508 359h7v5h-7zM283 364h7v5h-7zM277 369h6v5h-6zM271 374h6v5h-6zM515 379h6v5h-6zM265 384h6v6h-6zM515 384h6v6h-6zM515 390h6v5h-6zM74 395h9v5h-9zM515 395h9v5h-9zM74 400h9v5h-9zM258 400h7v5h-7zM415 400h12v5h-12zM521 400h3v5h-3zM74 405h9v5h-9zM258 405h7v5h-7zM427 405h6v5h-6zM521 405h3v5h-3zM258 410h7v5h-7zM515 410h6v5h-6zM258 415h13v3h-13zM421 415h6v3h-6zM508 415h7v3h-7z"/>
<path fill="#a8156a" d="M102 209h6v5h-6z"/>
<path fill="#ae1a34" d="M108 209h7v5h-7z"/>
<path fill="#ce4600" d="M133 209h7v5h-7zM215 214h6v5h-6zM133 225h7v5h-7z"/>
<path fill="#d24f00" d="M140 209h6v5h-6zM208 219h7v6h-7zM140 230h6v5h-6z"/>
<path fill="#d65800" d="M146 209h6v5h-6zM327 250h6v6h-6z"/>
<path fill="#d45500" d="M158 209h7v5h-7zM140 214h6v5h-6z"/>
<path fill="#cb4000" d="M196 209h6v5h-6zM233 209h7v5h-7z"/>
<path fill="#ca3f00" d="M215 209h18v5h-18z"/>
<path fill="#4a0081" d="M296 209h6v5h-6zM421 281h6v5h-6zM446 302h6v5h-6zM508 328h7v5h-7zM277 333h6v5h-6zM508 333h7v5h-7zM277 338h6v5h-6zM277 343h6v5h-6zM277 348h13v6h-13zM515 364h6v5h-6zM271 369h6v5h-6zM515 369h6v5h-6zM515 374h6v5h-6zM265 379h6v5h-6zM74 384h9v6h-9zM521 384h3v6h-3zM77 390h6v5h-6zM258 390h7v5h-7zM83 395h7v5h-7zM258 395h7v5h-7zM83 400h7v5h-7zM83 405h13v5h-13zM252 405h6v5h-6zM415 405h12v5h-12zM74 410h22v5h-22zM246 410h12v5h-12zM415 410h12v5h-12zM521 410h3v5h-3zM246 415h12v3h-12zM515 415h6v3h-6z"/>
<path fill="#5a00b2" d="M302 209h6v5h-6zM427 235h6v5h-6zM452 235h6v5h-6zM308 302h7v5h-7zM283 312h7v5h-7zM271 317h6v6h-6zM265 333h6v5h-6zM74 338h3v5h-3zM521 338h3v5h-3zM258 343h7v5h-7zM77 354h6v5h-6zM252 354h6v5h-6zM246 359h6v5h-6zM246 364h6v5h-6zM90 369h6v5h-6zM246 369h6v5h-6zM96 374h6v5h-6zM246 374h6v5h-6zM102 379h6v5h-6zM246 379h6v5h-6zM102 384h6v6h-6zM240 384h6v6h-6zM108 390h7v5h-7zM233 390h7v5h-7zM115 395h6v5h-6zM227 395h6v5h-6zM121 400h6v5h-6zM221 400h6v5h-6zM133 405h13v5h-13zM165 405h18v5h-18z"/>
<path fill="#a41280" d="M96 214h6v5h-6z"/>
<path fill="#ab1750" d="M102 214h6v5h-6z"/>
<path fill="#d75c00" d="M146 214h6v5h-6zM196 219h6v6h-6zM208 225h7v5h-7zM127 245h6v5h-6z"/>
<path fill="#d65a00" d="M152 214h25v5h-25zM227 225h6v5h-6zM290 240h6v5h-6zM327 240h6v5h-6z"/>
<path fill="#d35200" d="M183 214h7v5h-7zM296 240h6v5h-6zM296 256h19v5h-19z"/>
<path fill="#d35100" d="M190 214h6v5h-6zM140 225h6v5h-6zM246 230h6v5h-6zM246 235h6v5h-6zM308 240h7v5h-7z"/>
<path fill="#cf4800" d="M202 214h6v5h-6z"/>
<path fill="#ce4700" d="M233 214h13v5h-13zM246 219h6v6h-6zM108 245h7v5h-7zM252 245h6v5h-6zM271 245h6v5h-6zM240 256h6v5h-6zM233 261h7v5h-7zM227 271h6v5h-6zM140 276h6v5h-6zM158 281h7v5h-7zM202 286h6v6h-6z"/>
<path fill="#450071" d="M308 214h13v5h-13zM402 261h6v5h-6zM396 281h6v5h-6zM396 292h6v5h-6zM402 297h6v5h-6zM340 307h6v5h-6zM383 307h7v5h-7zM496 312h6v5h-6zM502 328h6v5h-6zM283 333h7v5h-7zM502 333h6v5h-6zM283 343h7v5h-7zM465 359h12v5h-12zM508 364h7v5h-7zM477 369h13v5h-13zM508 369h7v5h-7zM277 374h6v5h-6zM477 374h13v5h-13zM508 374h7v5h-7zM271 379h6v5h-6zM508 379h7v5h-7zM508 384h7v6h-7zM265 390h6v5h-6zM508 390h7v5h-7zM265 395h6v5h-6zM508 395h7v5h-7zM265 400h6v5h-6zM408 400h7v5h-7zM427 400h6v5h-6zM452 400h13v5h-13zM515 400h6v5h-6zM265 405h6v5h-6zM408 405h7v5h-7zM515 405h6v5h-6zM265 410h6v5h-6zM427 410h6v5h-6zM508 410h7v5h-7zM271 415h12v3h-12zM415 415h6v3h-6zM427 415h6v3h-6zM502 415h6v3h-6z"/>
<path fill="#9f0fa2" d="M90 219h6v6h-6zM90 256h6v5h-6zM96 261h6v5h-6zM102 266h6v5h-6zM115 276h6v5h-6z"/>
<path fill="#ad193e" d="M102 219h6v6h-6z"/>
<path fill="#ce4800" d="M133 219h7v6h-7z"/>
<path fill="#d85e00" d="M152 219h6v6h-6zM140 245h6v5h-6z"/>
<path fill="#db6500" d="M165 219h6v6h-6z"/>
<path fill="#db6600" d="M171 219h6v6h-6zM152 225h6v5h-6zM146 230h6v5h-6zM133 250h13v6h-13z"/>
<path fill="#da6300" d="M183 219h7v6h-7zM146 225h6v5h-6z"/>
<path fill="#d96000" d="M190 219h6v6h-6zM215 230h6v5h-6zM321 240h6v5h-6z"/>
<path fill="#d14e00" d="M215 219h6v6h-6zM233 219h13v6h-13zM246 245h6v5h-6zM240 250h6v6h-6zM233 256h7v5h-7zM227 266h6v5h-6zM221 271h6v5h-6zM208 281h13v5h-13zM171 286h6v6h-6z"/>
<path fill="#5800ac" d="M458 219h13v6h-13zM458 225h7v5h-7zM465 230h6v5h-6zM446 235h6v5h-6zM446 240h6v5h-6zM446 245h6v5h-6z"/>
<path fill="#940adb" d="M74 225h3v5h-3zM521 225h3v5h-3zM74 240h3v5h-3zM521 240h3v5h-3zM315 266h6v5h-6z"/>
<path fill="#af1b2c" d="M102 225h6v5h-6z"/>
<path fill="#df7100" d="M158 225h7v5h-7zM202 230h6v5h-6zM290 245h6v5h-6z"/>
<path fill="#e17900" d="M177 225h6v5h-6zM146 250h6v6h-6z"/>
<path fill="#e27a00" d="M183 225h7v5h-7zM208 240h7v5h-7zM283 245h7v5h-7zM165 276h6v5h-6zM202 276h6v5h-6z"/>
<path fill="#e07500" d="M190 225h6v5h-6zM158 235h7v5h-7zM308 250h7v6h-7z"/>
<path fill="#dd6d00" d="M196 225h6v5h-6zM221 235h6v5h-6zM215 240h6v5h-6zM215 245h6v5h-6zM127 250h6v6h-6zM215 250h6v6h-6zM215 256h6v5h-6zM215 261h6v5h-6zM215 266h6v5h-6zM215 271h6v5h-6zM158 276h7v5h-7zM171 281h6v5h-6zM196 281h6v5h-6z"/>
<path fill="#d75b00" d="M246 225h6v5h-6zM240 240h6v5h-6zM265 240h25v5h-25zM121 245h6v5h-6zM133 245h7v5h-7zM233 245h7v5h-7zM233 250h7v6h-7zM227 256h6v5h-6zM221 266h6v5h-6zM165 281h6v5h-6zM202 281h6v5h-6zM190 286h6v6h-6z"/>
<path fill="#960bd2" d="M74 230h3v5h-3zM521 230h3v5h-3z"/>
<path fill="#af1b2b" d="M102 230h6v5h-6z"/>
<path fill="#cd4400" d="M133 230h7v5h-7zM252 230h19v5h-19zM271 235h6v5h-6zM315 235h6v5h-6z"/>
<path fill="#e38000" d="M165 230h6v5h-6zM202 235h6v5h-6zM165 240h6v5h-6z"/>
<path fill="#e88f00" d="M177 230h13v5h-13zM190 250h6v6h-6zM183 256h7v5h-7zM183 261h7v5h-7zM127 266h6v5h-6zM190 266h6v5h-6zM196 271h6v5h-6zM177 276h13v5h-13z"/>
<path fill="#e78c00" d="M190 230h6v5h-6zM158 256h7v5h-7zM190 256h6v5h-6zM158 271h13v5h-13zM171 276h6v5h-6z"/>
<path fill="#e37e00" d="M196 230h6v5h-6zM202 245h6v5h-6zM321 245h6v5h-6z"/>
<path fill="#dd6c00" d="M221 230h6v5h-6zM152 235h6v5h-6z"/>
<path fill="#d75a00" d="M233 230h7v5h-7z"/>
<path fill="#980cc8" d="M74 235h3v5h-3zM521 235h3v5h-3z"/>
<path fill="#b41f06" d="M96 235h6v5h-6zM283 235h7v5h-7zM240 276h6v5h-6z"/>
<path fill="#cc4200" d="M133 235h7v5h-7zM133 240h7v5h-7z"/>
<path fill="#d25100" d="M140 235h6v5h-6z"/>
<path fill="#e58600" d="M165 235h6v5h-6z"/>
<path fill="#eca100" d="M177 235h19v5h-19z"/>
<path fill="#e89200" d="M196 235h6v5h-6zM171 240h6v5h-6zM171 245h6v5h-6zM140 261h6v5h-6z"/>
<path fill="#d96100" d="M233 235h7v5h-7zM233 240h7v5h-7zM227 250h6v6h-6zM221 261h6v5h-6zM133 271h7v5h-7zM152 276h6v5h-6zM215 276h6v5h-6z"/>
<path fill="#d04b00" d="M252 235h19v5h-19zM140 240h6v5h-6z"/>
<path fill="#b31f08" d="M333 235h7v5h-7z"/>
<path fill="#a2118e" d="M352 235h6v5h-6zM233 297h7v5h-7zM221 307h6v5h-6z"/>
<path fill="#990cc6" d="M358 235h7v5h-7z"/>
<path fill="#940ada" d="M365 235h6v5h-6zM221 312h6v5h-6z"/>
<path fill="#4b0083" d="M483 235h7v5h-7zM396 266h6v5h-6zM390 271h12v5h-12zM390 276h6v5h-6zM383 292h7v5h-7zM490 292h6v5h-6z"/>
<path fill="#c63700" d="M108 240h7v5h-7z"/>
<path fill="#c63900" d="M115 240h6v5h-6z"/>
<path fill="#de6f00" d="M146 240h6v5h-6zM121 250h6v6h-6z"/>
<path fill="#de7000" d="M152 240h6v5h-6zM208 250h7v6h-7zM140 256h6v5h-6zM208 256h7v5h-7zM208 261h7v5h-7zM140 271h6v5h-6z"/>
<path fill="#ec9e00" d="M177 240h6v5h-6z"/>
<path fill="#efad00" d="M183 240h7v5h-7zM133 266h7v5h-7z"/>
<path fill="#f3bd00" d="M190 240h6v5h-6z"/>
<path fill="#e58400" d="M202 240h6v5h-6zM165 245h6v5h-6zM152 256h6v5h-6z"/>
<path fill="#cb4200" d="M302 240h6v5h-6z"/>
<path fill="#9a0cbf" d="M358 240h7v5h-7z"/>
<path fill="#9008e7" d="M74 245h3v5h-3zM521 245h3v5h-3zM215 312h6v5h-6z"/>
<path fill="#d55800" d="M115 245h6v5h-6z"/>
<path fill="#e07400" d="M152 245h6v5h-6zM315 245h6v5h-6zM296 250h6v6h-6zM208 266h7v5h-7zM208 271h7v5h-7zM177 281h19v5h-19z"/>
<path fill="#ec9f00" d="M177 245h6v5h-6z"/>
<path fill="#ea9700" d="M196 245h6v5h-6zM177 250h13v6h-13zM171 256h6v5h-6zM177 261h6v5h-6zM177 266h6v5h-6zM171 271h25v5h-25z"/>
<path fill="#df7400" d="M208 245h7v5h-7z"/>
<path fill="#9f0fa5" d="M358 245h7v5h-7z"/>
<path fill="#8b07f5" d="M365 245h6v5h-6zM377 245h6v5h-6z"/>
<path fill="#7002f0" d="M390 245h6v5h-6z"/>
<path fill="#8c07f1" d="M74 250h3v6h-3zM521 250h3v6h-3z"/>
<path fill="#e17a00" d="M152 250h6v6h-6z"/>
<path fill="#e27c00" d="M158 250h7v6h-7z"/>
<path fill="#e68900" d="M165 250h6v6h-6z"/>
<path fill="#e99600" d="M171 250h6v6h-6zM146 261h6v5h-6z"/>
<path fill="#e17700" d="M202 250h6v6h-6zM202 256h6v5h-6zM202 261h6v5h-6z"/>
<path fill="#b11c1e" d="M346 250h6v6h-6z"/>
<path fill="#aa1754" d="M352 250h6v6h-6z"/>
<path fill="#7502f6" d="M383 250h7v6h-7z"/>
<path fill="#e27b00" d="M121 256h6v5h-6z"/>
<path fill="#e48400" d="M146 256h6v5h-6z"/>
<path fill="#ea9900" d="M165 256h6v5h-6z"/>
<path fill="#e99300" d="M177 256h6v5h-6zM165 266h6v5h-6zM183 266h7v5h-7z"/>
<path fill="#e58500" d="M196 256h6v5h-6zM152 271h6v5h-6zM202 271h6v5h-6z"/>
<path fill="#b01b2a" d="M258 256h7v5h-7z"/>
<path fill="#ac1844" d="M327 256h6v5h-6z"/>
<path fill="#53009c" d="M446 256h6v5h-6zM446 276h6v5h-6zM452 292h6v5h-6z"/>
<path fill="#4e008f" d="M465 256h6v5h-6zM465 261h6v5h-6zM465 266h6v5h-6zM465 271h6v5h-6zM421 297h6v5h-6z"/>
<path fill="#ea9a00" d="M152 261h6v5h-6z"/>
<path fill="#eb9e00" d="M158 261h7v5h-7z"/>
<path fill="#eda200" d="M171 261h6v5h-6z"/>
<path fill="#e48100" d="M196 261h6v5h-6zM202 266h6v5h-6zM146 271h6v5h-6zM196 276h6v5h-6z"/>
<path fill="#b42003" d="M252 261h6v5h-6z"/>
<path fill="#a91560" d="M258 261h7v5h-7z"/>
<path fill="#9d0eb1" d="M265 261h18v5h-18z"/>
<path fill="#9a0dbd" d="M283 261h13v5h-13z"/>
<path fill="#a61377" d="M308 261h7v5h-7z"/>
<path fill="#a91561" d="M321 261h6v5h-6z"/>
<path fill="#8f08ec" d="M333 261h7v5h-7z"/>
<path fill="#4d008c" d="M396 261h6v5h-6zM390 266h6v5h-6zM465 292h6v5h-6z"/>
<path fill="#49007c" d="M408 261h7v5h-7zM408 276h7v5h-7z"/>
<path fill="#510098" d="M427 261h6v5h-6zM358 292h7v5h-7zM296 312h6v5h-6z"/>
<path fill="#eb9b00" d="M146 266h19v5h-19zM171 266h6v5h-6z"/>
<path fill="#a7146d" d="M252 266h6v5h-6zM233 302h7v5h-7z"/>
<path fill="#8806fa" d="M290 266h18v5h-18z"/>
<path fill="#940adc" d="M321 266h6v5h-6z"/>
<path fill="#a0109c" d="M252 271h6v5h-6z"/>
<path fill="#7703f9" d="M352 271h6v5h-6z"/>
<path fill="#4b0082" d="M433 271h7v5h-7zM477 292h6v5h-6z"/>
<path fill="#990cc2" d="M252 276h6v5h-6z"/>
<path fill="#48007a" d="M396 276h12v5h-12zM390 281h6v5h-6zM346 302h6v5h-6zM371 302h6v5h-6zM440 302h6v5h-6zM308 312h7v5h-7z"/>
<path fill="#4a0082" d="M415 276h6v5h-6zM421 286h6v6h-6zM383 297h7v5h-7zM490 297h6v5h-6z"/>
<path fill="#6e02ec" d="M321 281h6v5h-6z"/>
<path fill="#510095" d="M383 281h7v5h-7z"/>
<path fill="#420069" d="M402 281h6v5h-6zM402 292h6v5h-6zM458 307h38v5h-38zM315 312h18v5h-18zM446 312h6v5h-6zM296 328h6v5h-6zM496 328h6v5h-6zM502 338h6v5h-6zM502 343h6v5h-6zM433 348h7v6h-7zM502 348h6v6h-6zM446 354h12v5h-12zM465 354h12v5h-12zM446 359h6v5h-6zM458 359h7v5h-7zM477 359h6v5h-6zM502 359h6v5h-6zM471 364h37v5h-37zM283 369h7v5h-7zM471 369h6v5h-6zM490 369h18v5h-18zM471 374h6v5h-6zM490 374h18v5h-18zM277 379h6v5h-6zM483 379h25v5h-25zM271 384h6v6h-6zM496 384h12v6h-12zM502 390h6v5h-6zM433 395h7v5h-7zM502 395h6v5h-6zM502 400h13v5h-13zM271 405h6v5h-6zM452 405h13v5h-13zM502 405h13v5h-13zM271 410h6v5h-6zM408 410h7v5h-7zM452 410h13v5h-13zM502 410h6v5h-6zM283 415h7v3h-7zM408 415h7v3h-7zM433 415h38v3h-38zM490 415h12v3h-12z"/>
<path fill="#43006b" d="M408 281h7v5h-7zM396 286h6v6h-6zM452 307h6v5h-6z"/>
<path fill="#4c0087" d="M427 281h6v5h-6zM383 286h7v6h-7zM427 286h6v6h-6zM321 307h6v5h-6z"/>
<path fill="#460073" d="M390 286h6v6h-6z"/>
<path fill="#3d005a" d="M402 286h6v6h-6z"/>
<path fill="#410065" d="M408 286h7v6h-7z"/>
<path fill="#450072" d="M415 286h6v6h-6zM408 297h7v5h-7zM377 307h6v5h-6zM296 323h6v5h-6z"/>
<path fill="#bf2c00" d="M208 292h7v5h-7z"/>
<path fill="#43006a" d="M408 292h7v5h-7z"/>
<path fill="#470076" d="M415 292h6v5h-6zM352 302h6v5h-6zM365 302h6v5h-6z"/>
<path fill="#4b0084" d="M421 292h6v5h-6zM471 292h6v5h-6zM483 292h7v5h-7zM477 297h6v5h-6zM496 302h6v5h-6zM296 317h6v6h-6z"/>
<path fill="#ad193b" d="M208 297h7v5h-7z"/>
<path fill="#b21d16" d="M221 297h6v5h-6z"/>
<path fill="#ae1a39" d="M227 297h6v5h-6z"/>
<path fill="#960bd1" d="M240 297h6v5h-6zM240 307h6v5h-6z"/>
<path fill="#4a007f" d="M358 297h7v5h-7zM327 307h6v5h-6z"/>
<path fill="#49007e" d="M365 297h6v5h-6z"/>
<path fill="#4c0089" d="M371 297h6v5h-6z"/>
<path fill="#4c0088" d="M377 297h6v5h-6zM333 302h7v5h-7zM290 323h6v5h-6zM290 343h6v5h-6z"/>
<path fill="#48007c" d="M415 297h6v5h-6zM340 302h6v5h-6zM377 302h6v5h-6z"/>
<path fill="#4b0085" d="M465 297h12v5h-12zM74 379h3v5h-3zM521 379h3v5h-3z"/>
<path fill="#49007f" d="M483 297h7v5h-7z"/>
<path fill="#a5137f" d="M208 302h7v5h-7z"/>
<path fill="#ac1846" d="M221 302h12v5h-12z"/>
<path fill="#470077" d="M358 302h7v5h-7zM390 302h12v5h-12zM433 302h7v5h-7zM483 302h7v5h-7zM496 307h6v5h-6z"/>
<path fill="#470078" d="M383 302h7v5h-7zM333 307h7v5h-7z"/>
<path fill="#410066" d="M402 302h6v5h-6zM452 312h6v5h-6zM471 312h25v5h-25zM452 317h6v6h-6zM465 317h31v6h-31zM296 348h6v6h-6z"/>
<path fill="#3e005e" d="M408 302h7v5h-7z"/>
<path fill="#3f005e" d="M415 302h6v5h-6z"/>
<path fill="#420068" d="M421 302h6v5h-6zM390 307h12v5h-12zM427 307h6v5h-6zM383 312h13v5h-13zM483 323h7v5h-7zM496 323h6v5h-6zM283 338h7v5h-7zM290 348h6v6h-6zM296 354h6v5h-6z"/>
<path fill="#450070" d="M427 302h6v5h-6zM446 307h6v5h-6z"/>
<path fill="#48007b" d="M452 302h6v5h-6z"/>
<path fill="#470079" d="M477 302h6v5h-6zM283 328h7v5h-7z"/>
<path fill="#460075" d="M490 302h6v5h-6z"/>
<path fill="#990cc3" d="M208 307h7v5h-7z"/>
<path fill="#9d0eaf" d="M215 307h6v5h-6z"/>
<path fill="#a21193" d="M227 307h6v5h-6z"/>
<path fill="#510099" d="M308 307h7v5h-7z"/>
<path fill="#43006c" d="M346 307h6v5h-6zM371 307h6v5h-6z"/>
<path fill="#44006e" d="M352 307h19v5h-19zM458 312h13v5h-13z"/>
<path fill="#3f0060" d="M402 307h6v5h-6zM421 307h6v5h-6zM396 312h12v5h-12zM390 317h18v6h-18zM396 323h19v5h-19zM446 323h37v5h-37zM490 323h6v5h-6zM477 328h19v5h-19zM496 333h6v5h-6zM496 338h6v5h-6zM427 343h13v5h-13zM427 348h6v6h-6zM440 348h18v6h-18zM465 348h18v6h-18zM290 354h6v5h-6zM433 354h13v5h-13zM458 354h7v5h-7zM477 354h13v5h-13zM502 354h6v5h-6zM290 359h18v5h-18zM440 359h6v5h-6zM452 359h6v5h-6zM483 359h19v5h-19zM296 364h12v5h-12zM465 364h6v5h-6zM465 369h6v5h-6zM283 374h7v5h-7zM477 379h6v5h-6zM277 384h6v6h-6zM415 384h12v6h-12zM483 384h13v6h-13zM271 390h6v5h-6zM402 390h13v5h-13zM421 390h12v5h-12zM490 390h12v5h-12zM271 395h6v5h-6zM402 395h31v5h-31zM490 395h12v5h-12zM271 400h6v5h-6zM402 400h6v5h-6zM433 400h7v5h-7zM446 400h6v5h-6zM490 400h12v5h-12zM402 405h6v5h-6zM433 405h19v5h-19zM465 405h6v5h-6zM490 405h12v5h-12zM277 410h6v5h-6zM402 410h6v5h-6zM433 410h19v5h-19zM465 410h6v5h-6zM490 410h12v5h-12zM290 415h18v3h-18zM383 415h25v3h-25zM471 415h19v3h-19z"/>
<path fill="#3c0057" d="M408 307h13v5h-13zM352 317h6v6h-6zM433 317h7v6h-7zM390 323h6v5h-6zM390 328h6v5h-6zM308 359h7v5h-7z"/>
<path fill="#420067" d="M433 307h7v5h-7zM446 317h6v6h-6z"/>
<path fill="#42006a" d="M440 307h6v5h-6z"/>
<path fill="#400061" d="M333 312h7v5h-7zM296 333h6v5h-6zM296 338h6v5h-6z"/>
<path fill="#3d0059" d="M340 312h12v5h-12z"/>
<path fill="#400062" d="M352 312h13v5h-13z"/>
<path fill="#400063" d="M365 312h6v5h-6zM296 343h6v5h-6z"/>
<path fill="#3e005c" d="M371 312h6v5h-6z"/>
<path fill="#410067" d="M377 312h6v5h-6z"/>
<path fill="#3c0058" d="M408 312h7v5h-7zM421 312h12v5h-12zM308 317h7v6h-7zM408 317h13v6h-13zM427 317h6v6h-6zM302 323h6v5h-6zM415 323h6v5h-6zM433 323h13v5h-13zM396 328h25v5h-25zM440 328h37v5h-37zM446 333h50v5h-50zM427 338h13v5h-13zM446 338h12v5h-12zM477 338h19v5h-19zM440 343h43v5h-43zM496 343h6v5h-6zM458 348h7v6h-7zM483 348h19v6h-19zM427 354h6v5h-6zM490 354h12v5h-12zM433 359h7v5h-7zM290 364h6v5h-6zM446 364h19v5h-19zM302 369h6v5h-6zM308 374h7v5h-7zM465 374h6v5h-6zM283 379h7v5h-7zM402 379h25v5h-25zM471 379h6v5h-6zM402 384h13v6h-13zM427 384h6v6h-6zM477 384h6v6h-6zM396 390h6v5h-6zM415 390h6v5h-6zM433 390h7v5h-7zM483 390h7v5h-7zM440 395h6v5h-6zM458 395h7v5h-7zM483 395h7v5h-7zM277 400h6v5h-6zM396 400h6v5h-6zM440 400h6v5h-6zM465 400h6v5h-6zM483 400h7v5h-7zM277 405h6v5h-6zM396 405h6v5h-6zM471 405h19v5h-19zM283 410h7v5h-7zM396 410h6v5h-6zM471 410h6v5h-6zM483 410h7v5h-7zM308 415h75v3h-75z"/>
<path fill="#37004b" d="M415 312h6v5h-6zM421 317h6v6h-6zM421 323h12v5h-12zM421 328h19v5h-19zM396 333h50v5h-50zM415 338h12v5h-12zM440 338h6v5h-6zM458 338h19v5h-19zM421 343h6v5h-6zM483 343h7v5h-7zM427 359h6v5h-6zM308 364h7v5h-7zM290 369h12v5h-12zM308 369h7v5h-7zM458 369h7v5h-7zM315 374h6v5h-6zM402 374h6v5h-6zM458 374h7v5h-7zM308 379h7v5h-7zM427 379h6v5h-6zM283 384h7v6h-7zM396 384h6v6h-6zM433 384h7v6h-7zM452 384h6v6h-6zM471 384h6v6h-6zM277 390h6v5h-6zM440 390h6v5h-6zM477 390h6v5h-6zM277 395h6v5h-6zM396 395h6v5h-6zM452 395h6v5h-6zM465 395h6v5h-6zM477 395h6v5h-6zM471 400h12v5h-12zM390 405h6v5h-6zM296 410h12v5h-12zM383 410h13v5h-13zM477 410h6v5h-6z"/>
<path fill="#3f005f" d="M433 312h7v5h-7zM383 317h7v6h-7zM440 317h6v6h-6zM302 354h6v5h-6z"/>
<path fill="#3e005d" d="M440 312h6v5h-6z"/>
<path fill="#4c0086" d="M502 312h6v5h-6z"/>
<path fill="#8806f8" d="M221 317h6v6h-6z"/>
<path fill="#44006d" d="M302 317h6v6h-6z"/>
<path fill="#39004e" d="M315 317h37v6h-37zM358 317h7v6h-7z"/>
<path fill="#39004f" d="M365 317h6v6h-6z"/>
<path fill="#3b0054" d="M371 317h6v6h-6zM302 343h6v5h-6z"/>
<path fill="#3d005b" d="M377 317h6v6h-6zM302 348h6v6h-6z"/>
<path fill="#44006f" d="M458 317h7v6h-7zM496 317h6v6h-6zM290 328h6v5h-6zM290 333h6v5h-6zM290 338h6v5h-6z"/>
<path fill="#4a0080" d="M502 317h6v6h-6z"/>
<path fill="#330040" d="M308 323h7v5h-7zM365 323h6v5h-6z"/>
<path fill="#33003f" d="M315 323h12v5h-12zM340 323h6v5h-6z"/>
<path fill="#360048" d="M327 323h13v5h-13zM346 323h19v5h-19z"/>
<path fill="#360046" d="M371 323h6v5h-6zM327 328h13v5h-13zM302 338h6v5h-6zM308 343h7v5h-7z"/>
<path fill="#3a0050" d="M377 323h6v5h-6zM308 348h7v6h-7z"/>
<path fill="#3c0056" d="M383 323h7v5h-7zM308 354h7v5h-7z"/>
<path fill="#350045" d="M302 328h6v5h-6zM302 333h6v5h-6z"/>
<path fill="#2d0032" d="M308 328h7v5h-7zM365 328h6v5h-6zM308 333h7v5h-7zM315 338h6v5h-6z"/>
<path fill="#2c0030" d="M315 328h6v5h-6zM358 328h7v5h-7zM315 333h12v5h-12zM340 333h6v5h-6zM358 333h7v5h-7zM396 343h19v5h-19zM415 348h6v6h-6zM421 354h6v5h-6zM396 359h6v5h-6zM408 359h7v5h-7zM327 364h6v5h-6zM396 364h6v5h-6zM327 369h6v5h-6zM390 369h6v5h-6zM402 369h6v5h-6zM415 369h18v5h-18zM327 374h6v5h-6zM396 374h6v5h-6zM421 374h6v5h-6zM327 379h6v5h-6zM358 379h13v5h-13zM390 379h6v5h-6zM440 379h25v5h-25zM290 384h6v6h-6zM315 384h12v6h-12zM358 384h13v6h-13zM290 390h6v5h-6zM308 390h7v5h-7zM346 390h6v5h-6zM365 390h18v5h-18zM465 390h6v5h-6zM290 395h6v5h-6zM308 395h7v5h-7zM352 395h19v5h-19zM377 395h6v5h-6zM352 400h6v5h-6zM377 400h6v5h-6zM308 405h7v5h-7zM377 405h6v5h-6zM321 410h56v5h-56z"/>
<path fill="#32003d" d="M321 328h6v5h-6zM340 328h18v5h-18zM327 333h13v5h-13zM346 333h12v5h-12zM390 338h25v5h-25zM415 343h6v5h-6zM490 343h6v5h-6zM421 348h6v6h-6zM321 359h6v5h-6zM402 359h6v5h-6zM315 364h12v5h-12zM315 369h12v5h-12zM396 369h6v5h-6zM446 369h12v5h-12zM290 374h18v5h-18zM321 374h6v5h-6zM408 374h13v5h-13zM446 374h12v5h-12zM290 379h18v5h-18zM315 379h12v5h-12zM396 379h6v5h-6zM433 379h7v5h-7zM465 379h6v5h-6zM296 384h19v6h-19zM440 384h12v6h-12zM458 384h13v6h-13zM283 390h7v5h-7zM296 390h12v5h-12zM352 390h13v5h-13zM446 390h6v5h-6zM471 390h6v5h-6zM283 395h7v5h-7zM296 395h12v5h-12zM383 395h13v5h-13zM446 395h6v5h-6zM471 395h6v5h-6zM283 400h7v5h-7zM296 400h12v5h-12zM383 400h13v5h-13zM283 405h7v5h-7zM296 405h12v5h-12zM383 405h7v5h-7zM290 410h6v5h-6zM308 410h13v5h-13zM377 410h6v5h-6z"/>
<path fill="#300038" d="M371 328h6v5h-6zM315 343h12v5h-12z"/>
<path fill="#340043" d="M377 328h6v5h-6zM315 348h6v6h-6z"/>
<path fill="#370049" d="M383 328h7v5h-7zM383 333h7v5h-7zM315 354h6v5h-6z"/>
<path fill="#260024" d="M365 333h6v5h-6zM340 338h25v5h-25z"/>
<path fill="#2a002b" d="M371 333h6v5h-6z"/>
<path fill="#2f0035" d="M377 333h6v5h-6zM321 348h6v6h-6z"/>
<path fill="#37004a" d="M390 333h6v5h-6zM315 359h6v5h-6z"/>
<path fill="#2e0033" d="M308 338h7v5h-7z"/>
<path fill="#2d0031" d="M321 338h19v5h-19z"/>
<path fill="#270025" d="M365 338h6v5h-6z"/>
<path fill="#2a002c" d="M371 338h6v5h-6z"/>
<path fill="#2f0036" d="M377 338h6v5h-6z"/>
<path fill="#31003c" d="M383 338h7v5h-7zM321 354h6v5h-6z"/>
<path fill="#2a002a" d="M327 343h6v5h-6z"/>
<path fill="#22001d" d="M333 343h7v5h-7zM358 343h7v5h-7zM371 348h6v6h-6z"/>
<path fill="#19000f" d="M340 343h18v5h-18z"/>
<path fill="#23001e" d="M365 343h6v5h-6z"/>
<path fill="#260023" d="M371 343h6v5h-6z"/>
<path fill="#29002a" d="M377 343h6v5h-6z"/>
<path fill="#2c002f" d="M383 343h7v5h-7z"/>
<path fill="#250022" d="M390 343h6v5h-6zM383 348h7v6h-7zM415 354h6v5h-6zM327 359h6v5h-6zM390 359h6v5h-6zM415 359h6v5h-6zM333 364h7v5h-7zM390 364h6v5h-6zM402 364h19v5h-19zM427 364h19v5h-19zM333 369h7v5h-7zM346 369h6v5h-6zM377 369h13v5h-13zM408 369h7v5h-7zM433 369h13v5h-13zM333 374h63v5h-63zM427 374h6v5h-6zM440 374h6v5h-6zM333 379h25v5h-25zM371 379h19v5h-19zM327 384h31v6h-31zM371 384h12v6h-12zM390 384h6v6h-6zM315 390h6v5h-6zM333 390h7v5h-7zM390 390h6v5h-6zM452 390h6v5h-6zM346 395h6v5h-6zM371 395h6v5h-6zM290 400h6v5h-6zM308 400h7v5h-7zM346 400h6v5h-6zM358 400h13v5h-13zM290 405h6v5h-6zM315 405h12v5h-12zM346 405h25v5h-25z"/>
<path fill="#280028" d="M327 348h6v6h-6z"/>
<path fill="#21001a" d="M333 348h7v6h-7zM358 348h7v6h-7z"/>
<path fill="#16000c" d="M340 348h18v6h-18z"/>
<path fill="#21001b" d="M365 348h6v6h-6z"/>
<path fill="#240020" d="M377 348h6v6h-6z"/>
<path fill="#1d0015" d="M390 348h25v6h-25zM383 354h32v5h-32zM371 359h6v5h-6zM383 359h7v5h-7zM421 359h6v5h-6zM340 364h50v5h-50zM421 364h6v5h-6zM340 369h6v5h-6zM352 369h6v5h-6zM365 369h12v5h-12zM433 374h7v5h-7zM383 384h7v6h-7zM321 390h12v5h-12zM340 390h6v5h-6zM383 390h7v5h-7zM315 395h6v5h-6zM315 400h6v5h-6zM333 400h13v5h-13zM371 400h6v5h-6zM327 405h19v5h-19zM371 405h6v5h-6z"/>
<path fill="#240021" d="M327 354h13v5h-13z"/>
<path fill="#1c0013" d="M340 354h37v5h-37z"/>
<path fill="#1d0014" d="M377 354h6v5h-6zM346 359h25v5h-25z"/>
<path fill="#110007" d="M333 359h13v5h-13zM377 359h6v5h-6zM358 369h7v5h-7zM458 390h7v5h-7z"/>
<path fill="#49007d" d="M74 390h3v5h-3zM521 390h3v5h-3z"/>
<path fill="#000000" d="M321 395h25v5h-25zM321 400h12v5h-12z"/>
</g>
<g shape-rendering="crispEdges">
<rect x="535" y="415" width="23" height="4" fill="#100006"/>
<rect x="535" y="412" width="23" height="4" fill="#1c0013"/>
<rect x="535" y="410" width="23" height="3" fill="#24001f"/>
<rect x="535" y="407" width="23" height="4" fill="#2a002c"/>
<rect x="535" y="404" width="23" height="4" fill="#300038"/>
<rect x="535" y="401" width="23" height="4" fill="#350044"/>
<rect x="535" y="398" width="23" height="4" fill="#390050"/>
<rect x="535" y="395" width="23" height="4" fill="#3e005c"/>
<rect x="535" y="393" width="23" height="3" fill="#420067"/>
<rect x="535" y="390" width="23" height="4" fill="#450073"/>
<rect x="535" y="387" width="23" height="4" fill="#49007e"/>
<rect x="535" y="384" width="23" height="4" fill="#4c0088"/>
<rect x="535" y="381" width="23" height="4" fill="#500093"/>
<rect x="535" y="379" width="23" height="3" fill="#53009d"/>
<rect x="535" y="376" width="23" height="4" fill="#5600a7"/>
<rect x="535" y="373" width="23" height="4" fill="#5900b0"/>
<rect x="535" y="370" width="23" height="4" fill="#5c01b9"/>
<rect x="535" y="367" width="23" height="4" fill="#5e01c1"/>
<rect x="535" y="364" width="23" height="4" fill="#6101c9"/>
<rect x="535" y="362" width="23" height="3" fill="#6401d0"/>
<rect x="535" y="359" width="23" height="4" fill="#6601d7"/>
<rect x="535" y="356" width="23" height="4" fill="#6901de"/>
<rect x="535" y="353" width="23" height="4" fill="#6b01e4"/>
<rect x="535" y="350" width="23" height="4" fill="#6d02e9"/>
<rect x="535" y="347" width="23" height="4" fill="#7002ee"/>
<rect x="535" y="345" width="23" height="3" fill="#7202f2"/>
<rect x="535" y="342" width="23" height="4" fill="#7402f6"/>
<rect x="535" y="339" width="23" height="4" fill="#7603f9"/>
<rect x="535" y="336" width="23" height="4" fill="#7803fb"/>
<rect x="535" y="333" width="23" height="4" fill="#7a03fd"/>
<rect x="535" y="331" width="23" height="3" fill="#7c03fe"/>
<rect x="535" y="328" width="23" height="4" fill="#7e04ff"/>
<rect x="535" y="325" width="23" height="4" fill="#8004ff"/>
<rect x="535" y="322" width="23" height="4" fill="#8205fe"/>
<rect x="535" y="319" width="23" height="4" fill="#8405fd"/>
<rect x="535" y="316" width="23" height="4" fill="#8605fb"/>
<rect x="535" y="314" width="23" height="3" fill="#8806f9"/>
<rect x="535" y="311" width="23" height="4" fill="#8a06f6"/>
<rect x="535" y="308" width="23" height="4" fill="#8c07f2"/>
<rect x="535" y="305" width="23" height="4" fill="#8e07ee"/>
<rect x="535" y="302" width="23" height="4" fill="#8f08e9"/>
<rect x="535" y="300" width="23" height="3" fill="#9109e4"/>
<rect x="535" y="297" width="23" height="4" fill="#9309de"/>
<rect x="535" y="294" width="23" height="4" fill="#950ad7"/>
<rect x="535" y="291" width="23" height="4" fill="#960bd0"/>
<rect x="535" y="288" width="23" height="4" fill="#980bc9"/>
<rect x="535" y="285" width="23" height="4" fill="#9a0cc1"/>
<rect x="535" y="283" width="23" height="3" fill="#9b0db9"/>
<rect x="535" y="280" width="23" height="4" fill="#9d0eb0"/>
<rect x="535" y="277" width="23" height="4" fill="#9f0fa7"/>
<rect x="535" y="274" width="23" height="4" fill="#a0109d"/>
<rect x="535" y="271" width="23" height="4" fill="#a21193"/>
<rect x="535" y="269" width="23" height="3" fill="#a31288"/>
<rect x="535" y="266" width="23" height="4" fill="#a5137e"/>
<rect x="535" y="263" width="23" height="4" fill="#a61473"/>
<rect x="535" y="260" width="23" height="4" fill="#a81567"/>
<rect x="535" y="257" width="23" height="4" fill="#a9165c"/>
<rect x="535" y="254" width="23" height="4" fill="#ab1750"/>
<rect x="535" y="252" width="23" height="3" fill="#ac1844"/>
<rect x="535" y="249" width="23" height="4" fill="#ae1a38"/>
<rect x="535" y="246" width="23" height="4" fill="#af1b2c"/>
<rect x="535" y="243" width="23" height="4" fill="#b11c1f"/>
<rect x="535" y="240" width="23" height="4" fill="#b21e13"/>
<rect x="535" y="238" width="23" height="3" fill="#b41f06"/>
<rect x="535" y="235" width="23" height="4" fill="#b52100"/>
<rect x="535" y="232" width="23" height="4" fill="#b62200"/>
<rect x="535" y="229" width="23" height="4" fill="#b82400"/>
<rect x="535" y="226" width="23" height="4" fill="#b92500"/>
<rect x="535" y="223" width="23" height="4" fill="#bb2700"/>
<rect x="535" y="221" width="23" height="3" fill="#bc2900"/>
<rect x="535" y="218" width="23" height="4" fill="#bd2b00"/>
<rect x="535" y="215" width="23" height="4" fill="#bf2c00"/>
<rect x="535" y="212" width="23" height="4" fill="#c02e00"/>
<rect x="535" y="209" width="23" height="4" fill="#c13000"/>
<rect x="535" y="206" width="23" height="4" fill="#c33200"/>
<rect x="535" y="204" width="23" height="3" fill="#c43400"/>
<rect x="535" y="201" width="23" height="4" fill="#c53600"/>
<rect x="535" y="198" width="23" height="4" fill="#c63900"/>
<rect x="535" y="195" width="23" height="4" fill="#c83b00"/>
<rect x="535" y="192" width="23" height="4" fill="#c93d00"/>
<rect x="535" y="190" width="23" height="3" fill="#ca3f00"/>
<rect x="535" y="187" width="23" height="4" fill="#cb4200"/>
<rect x="535" y="184" width="23" height="4" fill="#cd4400"/>
<rect x="535" y="181" width="23" height="4" fill="#ce4700"/>
<rect x="535" y="178" width="23" height="4" fill="#cf4900"/>
<rect x="535" y="175" width="23" height="4" fill="#d04c00"/>
<rect x="535" y="173" width="23" height="3" fill="#d24f00"/>
<rect x="535" y="170" width="23" height="4" fill="#d35100"/>
<rect x="535" y="167" width="23" height="4" fill="#d45400"/>
<rect x="535" y="164" width="23" height="4" fill="#d55700"/>
<rect x="535" y="161" width="23" height="4" fill="#d65a00"/>
<rect x="535" y="159" width="23" height="3" fill="#d85d00"/>
<rect x="535" y="156" width="23" height="4" fill="#d96000"/>
<rect x="535" y="153" width="23" height="4" fill="#da6300"/>
<rect x="535" y="150" width="23" height="4" fill="#db6700"/>
<rect x="535" y="147" width="23" height="4" fill="#dc6a00"/>
<rect x="535" y="144" width="23" height="4" fill="#dd6d00"/>
<rect x="535" y="142" width="23" height="3" fill="#df7100"/>
<rect x="535" y="139" width="23" height="4" fill="#e07400"/>
<rect x="535" y="136" width="23" height="4" fill="#e17800"/>
<rect x="535" y="133" width="23" height="4" fill="#e27b00"/>
<rect x="535" y="130" width="23" height="4" fill="#e37f00"/>
<rect x="535" y="128" width="23" height="3" fill="#e48300"/>
<rect x="535" y="125" width="23" height="4" fill="#e58700"/>
<rect x="535" y="122" width="23" height="4" fill="#e68b00"/>
<rect x="535" y="119" width="23" height="4" fill="#e88f00"/>
<rect x="535" y="116" width="23" height="4" fill="#e99300"/>
<rect x="535" y="113" width="23" height="4" fill="#ea9700"/>
<rect x="535" y="111" width="23" height="3" fill="#eb9b00"/>
<rect x="535" y="108" width="23" height="4" fill="#eca000"/>
<rect x="535" y="105" width="23" height="4" fill="#eda400"/>
<rect x="535" y="102" width="23" height="4" fill="#eea900"/>
<rect x="535" y="99" width="23" height="4" fill="#efad00"/>
<rect x="535" y="96" width="23" height="4" fill="#f0b200"/>
<rect x="535" y="94" width="23" height="3" fill="#f1b700"/>
<rect x="535" y="91" width="23" height="4" fill="#f2bb00"/>
<rect x="535" y="88" width="23" height="4" fill="#f3c000"/>
<rect x="535" y="85" width="23" height="4" fill="#f4c500"/>
<rect x="535" y="82" width="23" height="4" fill="#f5ca00"/>
<rect x="535" y="80" width="23" height="3" fill="#f6cf00"/>
<rect x="535" y="77" width="23" height="4" fill="#f7d500"/>
<rect x="535" y="74" width="23" height="4" fill="#f8da00"/>
<rect x="535" y="71" width="23" height="4" fill="#f9e000"/>
<rect x="535" y="68" width="23" height="4" fill="#fae500"/>
<rect x="535" y="65" width="23" height="4" fill="#fbeb00"/>
<rect x="535" y="63" width="23" height="3" fill="#fcf000"/>
<rect x="535" y="60" width="23" height="4" fill="#fef600"/>
<rect x="535" y="57" width="23" height="4" fill="#fffc00"/>
</g>
<path d="M184.1 138.5 L189.3 137.1 L195.6 142.6 L197.4 145.7 L196.9 150.8 L203.1 147.2 L212.1 141.2 L217.1 144.5 L216.5 146.7 L223.0 144.3 L218.3 140.3 L219.3 137.9 L211.2 141.0 L215.4 136.2 L224.7 133.9 L229.3 129.8 L225.7 127.5 L226.7 126.2 L223.6 123.9 L222.0 119.6 L219.1 115.3 L215.4 118.0 L212.1 114.4 L210.4 117.6 L208.0 111.0 L202.3 109.3 L201.8 113.4 L202.9 116.3 L203.1 122.7 L200.7 131.4 L196.7 129.3 L191.1 123.1 L184.3 120.7 L180.0 116.7 L183.7 110.1 L186.2 107.5 L179.6 105.7 L187.2 106.0 L187.9 103.5 L190.9 101.6 L193.8 100.0 L196.6 98.2 L195.6 94.3 L191.9 97.8 L189.3 97.3 L185.7 96.0 L184.8 94.2 L183.1 91.4 L178.8 91.4 L182.8 94.6 L181.7 97.2 L179.6 100.3 L176.0 97.2 L171.4 98.4 L164.1 96.8 L167.2 97.6 L164.3 100.6 L160.6 98.5 L156.9 97.3 L148.3 94.8 L144.1 95.1 L138.6 92.6 L134.7 95.3 L135.6 94.0 L129.7 95.4 L124.3 94.9 L123.0 94.5 L123.0 94.5 L121.4 94.0 L114.4 93.1 L106.5 91.6 L100.1 92.8 L91.2 97.2 L97.5 100.7 L95.8 101.9 L89.2 102.9 L98.1 105.0 L92.9 108.9 L93.8 114.1 L96.9 117.6 L102.2 118.1 L96.6 124.4 L103.8 120.2 L107.6 115.6 L113.0 112.6 L112.1 115.3 L116.3 113.5 L124.5 114.8 L128.1 117.8 L134.7 123.7 L137.6 130.1 L141.7 136.6 M141.7 136.6 L143.6 138.4 L144.5 142.5 L144.0 149.3 L144.1 154.7 L146.5 160.6 L148.7 166.8 L151.5 168.1 L153.0 170.8 L154.7 175.7 L156.7 179.6 L155.7 180.7 L158.3 183.7 L159.4 187.0 L162.0 190.8 L162.6 189.3 L161.1 187.3 L160.3 183.7 L158.5 179.6 L156.3 175.7 L156.0 172.6 L158.3 173.8 L159.3 178.2 L161.0 180.7 L162.9 185.2 L165.4 188.5 L167.3 192.0 L167.7 195.9 L169.3 198.8 L172.1 201.7 L174.7 203.6 L178.4 205.4 L181.3 204.6 L184.3 208.1 L187.0 209.9 L189.9 210.8 L192.4 215.1 L192.3 217.6 L195.0 220.5 L197.3 221.5 L199.0 222.9 L200.0 219.6 L201.7 220.9 L202.7 224.0 L202.6 229.3 L201.0 234.3 L199.5 237.6 L198.4 242.5 L199.6 244.8 L198.0 248.3 L199.9 252.9 L201.6 258.6 L204.1 266.3 L207.6 271.6 L211.5 276.0 L211.7 283.4 L211.3 291.6 L210.1 299.9 L209.9 307.1 L208.0 314.7 L207.6 320.5 L207.1 325.7 L206.4 331.9 L205.1 338.0 L206.4 344.2 L208.5 348.2 L210.9 349.0 L213.3 346.3 L214.0 346.1 L213.1 342.8 L215.0 339.1 L217.3 336.0 L215.1 332.5 L217.9 330.4 L218.3 325.7 L219.7 326.1 L218.1 322.2 L221.6 322.4 L222.0 318.2 L227.5 316.6 L228.6 313.3 L227.7 310.8 L226.5 308.5 L229.3 310.0 L232.4 308.5 L234.3 304.4 L236.6 299.9 L238.6 295.3 L238.9 290.6 L241.6 287.5 L245.7 285.4 L248.3 283.4 L249.9 277.2 L250.7 271.0 L250.9 265.2 L252.6 261.7 L255.7 255.5 L255.5 249.3 L253.0 247.7 L249.7 244.0 L245.1 243.0 L243.7 243.8 L240.1 239.4 L238.5 241.1 L236.4 238.0 L237.0 234.5 L235.1 228.9 L232.6 226.2 L228.3 225.6 L225.7 221.5 L222.6 218.4 L221.4 215.9 L218.5 217.0 L216.7 216.1 L214.1 215.3 L212.0 212.8 L210.1 215.3 L209.6 218.8 L210.7 217.4 L209.9 212.6 L207.9 214.7 L205.7 215.3 L204.7 218.4 L203.3 220.9 L202.6 219.8 L200.1 218.2 L198.0 219.8 L196.4 218.6 L195.0 215.7 L195.1 212.2 L195.4 207.1 L193.3 205.2 L190.1 205.4 L188.7 205.4 L189.3 201.3 L190.1 197.8 L190.9 194.1 L188.9 193.6 L186.6 194.7 L186.1 197.8 L184.9 199.6 L181.4 200.5 L179.5 198.6 L177.9 193.6 L177.3 188.5 L178.0 184.4 L177.9 180.7 L180.7 177.6 L182.6 176.5 L186.4 177.8 L187.9 178.0 L188.3 175.5 L190.7 175.3 L192.6 176.5 L194.5 176.1 L196.0 178.6 L196.1 181.3 L197.3 184.4 L198.1 186.0 L199.1 185.6 L199.5 182.7 L198.7 179.2 L197.7 175.1 L198.3 172.0 L200.4 169.5 L202.1 167.9 L205.0 165.4 L204.3 161.7 L205.5 158.6 L206.9 155.9 L207.0 154.2 L209.5 153.4 L212.0 152.0 L211.0 150.3 L211.7 148.1 L213.9 146.6 L216.5 146.7 M225.4 139.8 L230.1 141.5 L233.3 141.9 L233.6 139.8 L232.3 136.9 L229.7 135.3 L230.1 131.8 L227.6 133.8 L225.4 139.8 M193.3 193.0 L195.7 190.6 L198.9 190.3 L203.3 193.6 L206.7 196.3 L202.6 196.9 L202.0 195.3 L198.9 193.0 L197.0 191.8 L193.3 193.0 M206.5 199.8 L208.9 197.2 L212.0 197.2 L214.0 199.6 L210.7 201.3 L206.5 199.8 M375.1 94.0 L383.3 96.1 L384.5 90.5 L387.0 87.4 L390.7 89.5 L390.7 96.7 L393.3 88.4 L400.1 86.4 L400.1 89.5 L408.3 85.8 L408.3 83.3 L422.0 80.8 L429.9 77.7 L432.6 80.2 L440.1 80.8 L441.4 85.8 L447.6 86.4 L454.5 86.0 L458.9 88.4 L461.4 91.5 L465.7 90.5 L473.9 88.4 L487.0 89.9 L490.1 91.7 L498.9 94.2 L502.6 94.4 L509.5 93.6 L512.6 95.7 L519.5 94.2 L524.5 96.1 M74.5 96.1 L78.3 97.7 L85.1 100.2 L87.0 101.9 L83.9 104.9 L80.1 103.9 L76.4 101.9 L74.5 103.9 M524.5 103.9 L521.4 104.5 L523.3 109.1 L517.0 110.5 L512.6 114.2 L507.0 114.2 L503.9 110.7 L504.5 114.6 L503.0 118.8 L503.3 122.5 L499.5 128.7 L495.4 132.8 L494.3 127.6 L493.9 120.4 L501.4 113.2 L499.5 110.5 L495.1 111.1 L492.6 115.3 L485.1 115.7 L478.3 115.7 L472.0 121.4 L468.6 125.2 L471.4 127.0 L476.1 128.3 L475.1 132.8 M404.5 200.2 L402.4 203.8 L399.9 206.0 L399.6 210.2 L399.3 216.5 L398.3 218.8 L397.0 220.5 L396.4 221.3 L395.1 219.4 L393.9 214.3 L392.6 209.1 L391.4 204.0 L390.5 198.8 L390.4 194.7 L389.5 194.3 L387.0 195.1 L385.7 192.0 L387.4 190.6 L384.5 189.1 L383.3 186.8 L380.1 186.0 L376.4 186.2 L372.6 185.4 L370.7 182.7 L369.9 182.1 L367.0 183.1 L363.9 180.7 L362.0 176.1 L360.1 176.1 L359.5 177.1 L360.5 180.2 L362.3 183.3 L362.6 185.4 L363.9 184.4 L363.9 187.5 L367.0 188.1 L369.5 184.4 L370.1 187.5 L372.7 189.3 L374.3 191.6 L372.6 195.7 L371.6 198.8 L368.9 201.9 L365.1 204.4 L360.1 209.1 L355.7 211.6 L353.9 211.8 L353.0 207.5 L352.6 204.0 L350.1 197.8 L348.5 193.6 L347.0 188.5 L345.1 184.4 L343.3 180.2 L343.0 177.1 L342.4 180.2 L341.6 180.2 L340.3 176.3 L340.4 179.2 L341.7 182.3 L343.9 188.5 L345.7 193.6 L346.1 198.8 L347.7 200.9 L348.9 206.0 L350.7 208.1 L353.5 212.2 L353.6 214.3 L355.1 216.5 L358.3 214.9 L363.5 213.7 L363.3 216.5 L360.7 224.6 L359.5 228.7 L357.0 233.3 L353.9 237.0 L351.4 241.7 L349.5 245.2 L348.3 250.4 L348.9 254.5 L350.1 259.7 L350.4 267.9 L348.3 273.1 L345.5 275.1 L343.3 279.3 L343.9 286.5 L340.5 291.2 L340.5 295.8 L338.3 299.9 L335.1 305.7 L331.6 308.1 L327.6 308.5 L324.5 309.8 L322.5 308.5 L322.3 304.0 L320.7 298.9 L318.6 293.7 L317.6 285.0 L315.5 277.2 L314.3 273.1 L315.1 266.9 L316.7 260.7 L315.7 256.2 L314.7 250.4 L313.3 246.3 L311.4 242.1 L310.7 239.0 L311.4 235.9 L311.7 231.8 L310.5 228.7 L308.3 228.9 L306.4 226.7 L305.1 225.0 L302.6 225.0 L300.7 226.0 L297.0 228.1 L293.9 227.3 L290.1 228.9 L288.0 226.7 L285.1 223.8 L283.0 220.5 L282.6 217.8 L280.7 215.3 L278.6 212.2 L278.5 210.2 L277.6 207.7 L278.9 205.0 L279.1 198.8 L278.3 194.7 L279.5 189.5 L281.4 184.4 L283.3 180.9 L285.1 179.2 L287.0 177.1 L287.4 173.0 L288.9 169.3 L291.0 167.7 L292.1 164.1 L292.9 163.9 L295.9 165.2 L298.3 164.4 L300.7 162.7 L303.3 162.1 L305.7 161.9 L309.5 161.7 L312.0 161.1 L313.3 161.7 L312.6 163.7 L312.3 167.2 L313.3 168.7 L315.1 170.3 L318.5 171.2 L319.5 173.4 L322.0 175.3 L324.5 174.1 L324.5 171.0 L326.4 170.1 L328.3 170.8 L330.7 172.6 L333.3 173.6 L335.7 174.3 L338.3 173.0 L339.9 173.6 L342.3 173.4 M271.4 106.4 L276.1 107.2 L281.0 105.4 L282.3 102.9 L279.5 100.8 L274.5 101.9 L271.4 101.0 L269.5 102.9 L272.0 105.4 L271.4 106.4 M316.4 74.6 L317.6 78.1 L320.7 80.0 L326.4 78.1 L327.6 76.5 L333.3 73.0 L324.5 72.4 L316.4 74.6 M354.5 73.0 L363.3 73.4 L358.3 71.7 L354.5 73.0 M363.9 90.5 L366.4 91.9 L371.4 92.2 L368.3 86.8 L374.5 81.2 L385.1 79.6 L382.0 82.3 L372.0 85.3 L368.9 88.4 L363.9 90.5 M418.3 75.0 L424.5 73.4 L429.5 76.5 L423.3 77.3 L418.3 75.0 M471.4 82.7 L478.3 81.6 L484.5 82.9 L482.0 84.1 L474.5 84.7 L471.4 82.7 M431.0 252.0 L433.0 250.4 L435.1 251.8 L438.3 251.4 L440.5 252.4 L442.6 253.9 L442.4 255.7 L437.0 254.5 L432.6 253.3 L431.0 252.0 M463.3 239.7 L467.0 239.7 L468.3 244.8 L471.7 241.1 L475.7 243.4 L480.1 245.8 L483.3 250.2 L484.3 252.4 L487.6 259.7 L483.9 258.6 L480.7 254.1 L478.3 256.6 L475.7 256.6 L473.3 252.9 L472.0 255.1 L471.4 249.3 L468.3 247.1 L465.5 246.3 L466.4 243.2 L464.5 243.8 L463.3 239.7 M441.4 283.4 L442.0 291.6 L443.3 299.9 L444.1 304.0 L443.3 308.8 L447.0 310.2 L450.7 308.1 L454.5 306.1 L458.3 304.4 L463.3 303.0 L467.0 305.7 L468.9 309.6 L471.7 305.5 L471.4 310.2 L473.9 312.3 L475.1 316.4 L478.9 318.0 L482.0 318.5 L484.5 316.0 L487.0 314.7 L488.3 308.1 L490.7 299.9 L491.4 295.8 L490.7 289.6 L488.0 285.9 L485.7 280.3 L482.6 277.2 L481.4 268.9 L478.9 267.5 L477.6 260.3 L476.4 265.8 L475.7 274.1 L473.9 274.1 L470.7 270.6 L468.9 268.9 L470.4 263.2 L468.3 262.8 L465.1 261.3 L462.6 263.8 L461.4 268.7 L459.5 268.5 L457.0 266.9 L455.1 271.6 L452.6 273.1 L452.0 276.2 L448.3 279.3 L445.1 280.7 L442.6 283.0 L441.4 283.4 M480.4 322.0 L484.5 322.2 L484.5 325.7 L482.6 327.7 L481.1 325.3 L480.4 322.0 M515.4 309.2 L517.4 311.2 L519.5 315.6 L522.4 315.8 L520.7 319.5 L518.9 323.6 L518.0 320.1 L516.7 319.1 L518.0 315.4 L515.4 309.2 M515.4 321.8 L517.3 324.0 L515.4 327.9 L513.3 331.9 L510.1 334.1 L507.6 332.5 L510.1 328.8 L513.3 325.3 L515.4 321.8 M361.1 262.8 L362.6 270.0 L361.4 275.1 L358.9 288.5 L356.4 290.6 L354.1 286.5 L354.9 279.3 L354.5 273.1 L357.6 270.0 L359.5 265.8 L361.1 262.8 M399.5 217.8 L401.7 222.5 L400.7 225.2 L399.5 225.6 L399.3 221.5 L399.5 217.8 M75.5 399.7 L98.3 399.7 L103.3 398.5 M97.5 400.3 L100.0 403.0 M75.5 413.0 L87.0 413.0 L88.3 414.0 L105.7 414.0 L115.7 415.5 L109.5 406.0 L109.0 401.5 L112.0 398.0 L120.7 395.3 L132.0 392.3 L142.0 390.5 L148.3 390.3 L154.5 390.5 L162.0 393.5 L168.3 391.7 L174.5 389.7 L179.5 389.3 L184.5 389.5 L197.0 389.3 L204.5 387.7 L209.5 389.0 L213.3 387.7 L215.7 382.3 L218.3 374.7 L222.0 371.0 L225.7 369.7 L227.0 373.5 L224.5 379.7 L224.0 386.0 L224.5 392.3 L229.5 394.7 L234.5 396.0 M207.0 384.7 L210.7 382.3 L213.3 381.0 L212.0 384.7 L209.5 386.5 L207.0 384.7 M217.0 379.7 L220.3 373.0 L224.5 371.0 M224.5 394.7 L214.5 396.0 L204.5 397.3 L197.0 398.0 L202.0 401.0 L207.0 403.5 L214.5 405.5 L224.5 406.0 L234.5 407.3 M219.5 404.3 L227.0 403.5 L234.5 401.5 M224.5 394.7 L232.0 397.3 L239.5 398.5 L257.0 398.5 L258.3 396.5 L260.7 403.5 L257.0 404.7 L247.0 406.0 L234.5 407.7 L224.5 407.7 M224.5 403.5 L232.0 401.5 L239.5 399.7 L244.5 402.3 L237.0 404.0 L227.0 404.7 L224.5 403.5 M258.3 397.3 L264.5 394.3 L274.5 389.7 L284.5 386.5 L292.0 384.0 L298.3 381.5 L304.5 382.7 L307.0 383.5 L324.5 383.5 L332.0 382.7 L335.7 381.5 L340.7 381.0 L347.0 382.7 L354.5 377.7 L360.7 376.0 L365.7 374.7 L370.7 376.5 L377.0 377.3 L384.5 378.5 M304.5 382.7 L298.3 386.0 L290.7 385.5 L284.5 386.5 M262.0 396.5 L274.5 391.3 L284.5 387.5 M384.5 378.5 L385.7 380.5 L387.0 383.5 L390.7 382.3 L385.7 380.5 M374.5 377.3 L382.0 379.0 L385.7 380.5 L390.7 382.3 L397.0 380.5 L402.0 377.3 L405.7 375.5 L422.0 374.7 L440.7 374.7 L445.7 376.5 L454.5 374.7 L469.5 374.7 L477.0 377.3 L487.0 380.3 L499.5 382.3 L507.0 384.7 L512.0 387.3 L508.3 391.0 L504.5 397.3 L503.3 401.0 L507.0 407.3 L513.3 409.7 L518.3 410.5 M504.5 398.0 L510.7 397.3 L518.3 398.5 L523.7 399.7 M474.9 130.5 L473.6 133.0 L473.0 142.4 L465.5 148.6 L461.1 153.6 L458.0 161.7 L457.4 166.1 L455.5 158.6 L450.5 156.1 L446.1 159.9 L450.5 161.7 L449.9 166.7 L450.5 175.5 L448.6 186.1 L444.9 189.9 L444.3 190.5 L439.3 194.3 L435.5 194.3 L434.9 199.3 L433.0 211.7 L433.0 217.4 L429.3 217.4 L424.0 211.1 L424.3 223.0 L426.1 231.7 L425.5 226.7 L421.7 215.5 L421.1 206.7 L414.9 199.3 L411.7 194.3 L405.5 201.7 M464.9 166.1 L468.0 163.6 L472.4 159.3 L474.3 154.9 L473.6 151.7 L475.5 148.0 L476.7 143.6 L478.6 149.3 L477.4 151.1 L474.9 151.1 L474.9 164.3 L471.1 166.7 L466.7 167.4 L464.9 166.1 L462.4 171.1 M461.1 171.1 L464.3 169.3 L463.0 173.6 L461.1 171.1 M475.5 130.5 L477.4 136.7 L476.7 143.6 L478.6 135.5 L478.0 130.5 M418.0 226.7 L426.1 245.3 L431.7 244.9 L427.4 235.5 L418.0 226.7 M436.1 241.1 L445.5 225.5 L446.7 237.4 L442.4 245.5 L436.1 241.1 M450.5 201.7 L451.7 201.1 L453.0 206.7 L452.4 210.5 L450.5 209.9 L450.5 201.7 M452.4 224.9 L456.1 219.3 L455.5 225.5 L452.4 224.9 M448.0 217.4 L449.0 216.1 M101.0 194.0 L102.0 194.0 M103.0 195.0 L104.5 195.5 M105.0 197.0 L106.0 197.5 M85.5 266.5 L86.5 266.5 M185.5 238.5 L186.0 239.5 M159.0 152.5 L160.5 151.5 M392.0 147.5 L399.5 144.0 M341.0 238.5 L341.5 244.0 M182.0 328.0 L183.0 328.5 M188.2 71.9 L192.1 70.0 L199.9 69.5 L204.6 68.4 L210.8 68.0 L218.6 68.4 L221.7 70.3 L215.5 72.7 L209.3 75.0 L204.6 77.3 L200.7 79.7 L195.2 80.9 L192.1 79.7 L194.4 77.3 L192.1 75.8 L198.3 73.4 L204.6 72.7 L195.2 73.4 L188.2 71.9 M221.7 70.3 L217.1 75.8 L211.6 78.1 L213.9 79.7 L216.3 78.9 M190.5 88.3 L193.6 89.1 L201.4 89.8 L206.1 90.3 L209.3 92.2 L213.9 94.5 L217.1 97.7 L221.0 102.3 L221.7 104.7 L217.1 103.9 L218.6 107.0 L213.9 109.4 L212.4 107.0 L204.6 107.0 L209.3 103.4 L213.2 101.6 L209.3 99.2 L203.0 96.1 L198.3 95.3 L193.6 94.5 L190.5 92.2 L190.5 88.3 M181.1 118.0 L185.0 110.2 L188.9 105.5 L192.8 102.3 L197.5 99.2 L195.2 103.1 L194.4 109.4 L198.3 107.8 L200.7 110.9 L203.8 112.5 L204.6 123.4 L200.7 122.7 L203.0 125.0 L202.2 132.0 L199.1 131.3 L194.4 125.0 L190.5 123.4 L184.3 121.9 L181.1 118.0 M156.1 90.6 L165.5 89.8 L168.6 93.0 L173.3 96.1 L167.8 98.4 L165.5 100.8 L160.0 97.7 L156.1 94.5 L156.1 90.6 M146.7 87.5 L149.9 85.9 L152.2 88.3 L153.8 90.6 L147.5 92.2 L146.7 87.5 M149.1 82.0 L156.1 80.0 M155.3 82.8 L160.0 84.4 L163.9 81.3 L167.1 83.6 L160.8 85.6 L155.3 82.8 M169.4 75.8 L173.3 78.1 L178.0 82.8 L175.7 83.6 L174.1 80.5 L169.4 75.8 M178.0 78.1 L181.1 81.3 M174.1 89.1 L177.2 86.7 L178.8 91.4 L175.7 91.4 L174.1 89.1 M181.9 88.3 L185.0 86.7 L185.0 89.8 L181.9 88.3 M146.0 103.1 L151.4 102.3 L153.8 103.4 L149.1 105.5 L146.0 103.1 M150.7 107.8 L156.1 110.2 L163.9 109.4 L160.0 112.5 L152.2 113.3 M160.0 118.0 L166.3 117.2 L171.7 118.7 L173.3 122.7 L178.0 121.1 L172.5 123.7 L171.0 119.5 L163.9 118.7 L160.0 118.0 M185.8 81.3 L193.6 82.0 L200.7 82.5 M182.7 84.4 L187.4 85.9 L192.8 85.6 M216.3 78.1 L216.5 82.0 L220.2 81.5 L225.7 83.6 L230.3 86.7 L231.9 91.4 L235.8 93.0 L234.3 99.2 L236.6 104.7 L238.7 112.2 L245.5 115.5 L247.3 110.4 L250.4 104.2 L255.9 102.4 L259.6 98.1 L269.5 96.2 L267.0 95.6 L266.4 93.2 L273.1 91.3 L267.0 88.9 L270.7 87.0 L272.5 83.9 L276.8 80.2 L275.6 77.2 L283.0 72.0 L275.6 72.9 L268.2 72.9 L270.1 68.0 L261.5 66.7 L251.6 66.7 L243.6 69.8 L232.5 71.0 L221.7 70.3 M295.5 164.0 L292.0 163.5 L290.0 160.0 L288.7 156.5 L290.5 152.0 L292.0 149.5 L295.5 147.0 L299.0 144.5 L296.0 140.5 L296.1 141.6 L295.3 138.5 L300.8 137.7 L305.5 133.0 L309.4 128.3 L310.2 124.4 L314.1 125.2 L315.7 129.1 L320.3 127.5 L325.8 123.6 L332.1 119.7 L336.0 116.6 L330.5 116.6 L327.4 111.9 L328.9 105.7 L326.6 107.2 L323.5 110.3 L324.3 115.8 L322.7 120.5 L318.8 124.4 L314.1 120.5 L311.0 120.2 L307.8 118.2 L307.4 115.8 L309.4 111.1 L314.1 106.4 L318.8 101.0 L322.7 97.8 L327.4 95.5 L334.5 94.3 L336.7 95.5 L343.0 97.8 L349.3 101.0 L352.4 102.5 L343.0 102.5 L341.4 103.3 L344.5 106.7 L351.5 106.7 L355.5 102.5 L356.3 99.4 L357.8 101.7 L363.3 98.9 L373.5 97.0 L375.1 95.8 M295.5 164.0 L298.5 162.0 L300.5 157.5 L303.0 153.0 L306.5 150.5 L309.5 149.7 L312.0 151.5 L315.5 153.5 L319.0 157.0 L321.0 158.3 L323.0 157.7 L321.0 154.5 L319.5 151.5 L317.7 147.7 L320.0 149.5 L322.5 152.5 L324.0 155.5 L326.0 160.5 L328.0 163.0 L329.0 160.0 L328.5 157.5 L330.5 156.5 L332.0 157.5 L331.5 160.0 L333.5 162.0 L335.5 164.0 L340.5 165.0 L344.0 167.0 L342.5 170.5 L342.2 173.3 M332.0 157.5 L335.5 155.5 L336.5 150.5 L338.0 146.5 L341.0 147.0 L345.5 144.5 L350.5 142.5 L350.0 147.5 L349.5 153.5 L347.5 155.5 L340.5 155.0 L335.5 155.5 M311.0 155.0 L311.0 157.0 L312.0 155.0 M316.5 161.0 L319.0 161.0 M330.0 166.0 L330.0 167.0 M291.4 119.7 L295.3 119.7 L297.7 126.7 L301.6 133.8 L295.3 135.8 L296.1 132.2 L293.0 126.0 L289.1 133.0 L288.0 129.1 L292.2 126.0 L291.4 119.7 M361.7 143.9 L364.9 143.2 L365.7 151.7 L367.2 160.3 L361.7 159.6 L360.2 152.5 L361.7 143.9 M374.3 144.7 L376.1 143.9 L375.5 149.4 L374.3 147.1 L374.3 144.7 M298.2 113.9 L298.9 114.9" fill="none" stroke="#40e0d0" stroke-width="1" shape-rendering="crispEdges"/>
<g shape-rendering="crispEdges" fill="none" stroke="#000" stroke-width="1">
<rect x="74.5" y="57.5" width="450" height="361"/>
<rect x="535.5" y="57.5" width="22" height="361"/>
<path d="M535.5 367.5 h5 M557.5 367.5 h-5"/>
<path d="M535.5 305.5 h5 M557.5 305.5 h-5"/>
<path d="M535.5 243.5 h5 M557.5 243.5 h-5"/>
<path d="M535.5 181.5 h5 M557.5 181.5 h-5"/>
<path d="M535.5 119.5 h5 M557.5 119.5 h-5"/>
</g>
<text x="107" y="33" textLength="381" lengthAdjust="spacing">UQRG-GIM Global VTEC maps 20230412.102.71100</text>
<text x="62" y="77.9714" text-anchor="end">80</text>
<text x="62" y="119.229" text-anchor="end">60</text>
<text x="62" y="160.486" text-anchor="end">40</text>
<text x="62" y="201.743" text-anchor="end">20</text>
<text x="62" y="243" text-anchor="end">0</text>
<text x="62" y="284.257" text-anchor="end">-20</text>
<text x="62" y="325.514" text-anchor="end">-40</text>
<text x="62" y="366.771" text-anchor="end">-60</text>
<text x="62" y="408.029" text-anchor="end">-80</text>
<text x="111.5" y="443" text-anchor="middle">-150</text>
<text x="174" y="443" text-anchor="middle">-100</text>
<text x="236.5" y="443" text-anchor="middle">-50</text>
<text x="299" y="443" text-anchor="middle">0</text>
<text x="361.5" y="443" text-anchor="middle">50</text>
<text x="424" y="443" text-anchor="middle">100</text>
<text x="486.5" y="443" text-anchor="middle">150</text>
<text x="571" y="372.371">20</text>
<text x="571" y="310.397">40</text>
<text x="571" y="248.423">60</text>
<text x="571" y="186.448">80</text>
<text x="571" y="124.474">100</text>
<text x="571" y="62.5">120</text>
<text x="297.5" y="471" text-anchor="middle">Longitude / deg</text>
<text transform="translate(19,239) rotate(-90)" text-anchor="middle">Latitude / deg</text>
<text transform="translate(616.5,239.5) rotate(-90)" text-anchor="middle">VTEC / TECU</text>
</svg></body></html>
